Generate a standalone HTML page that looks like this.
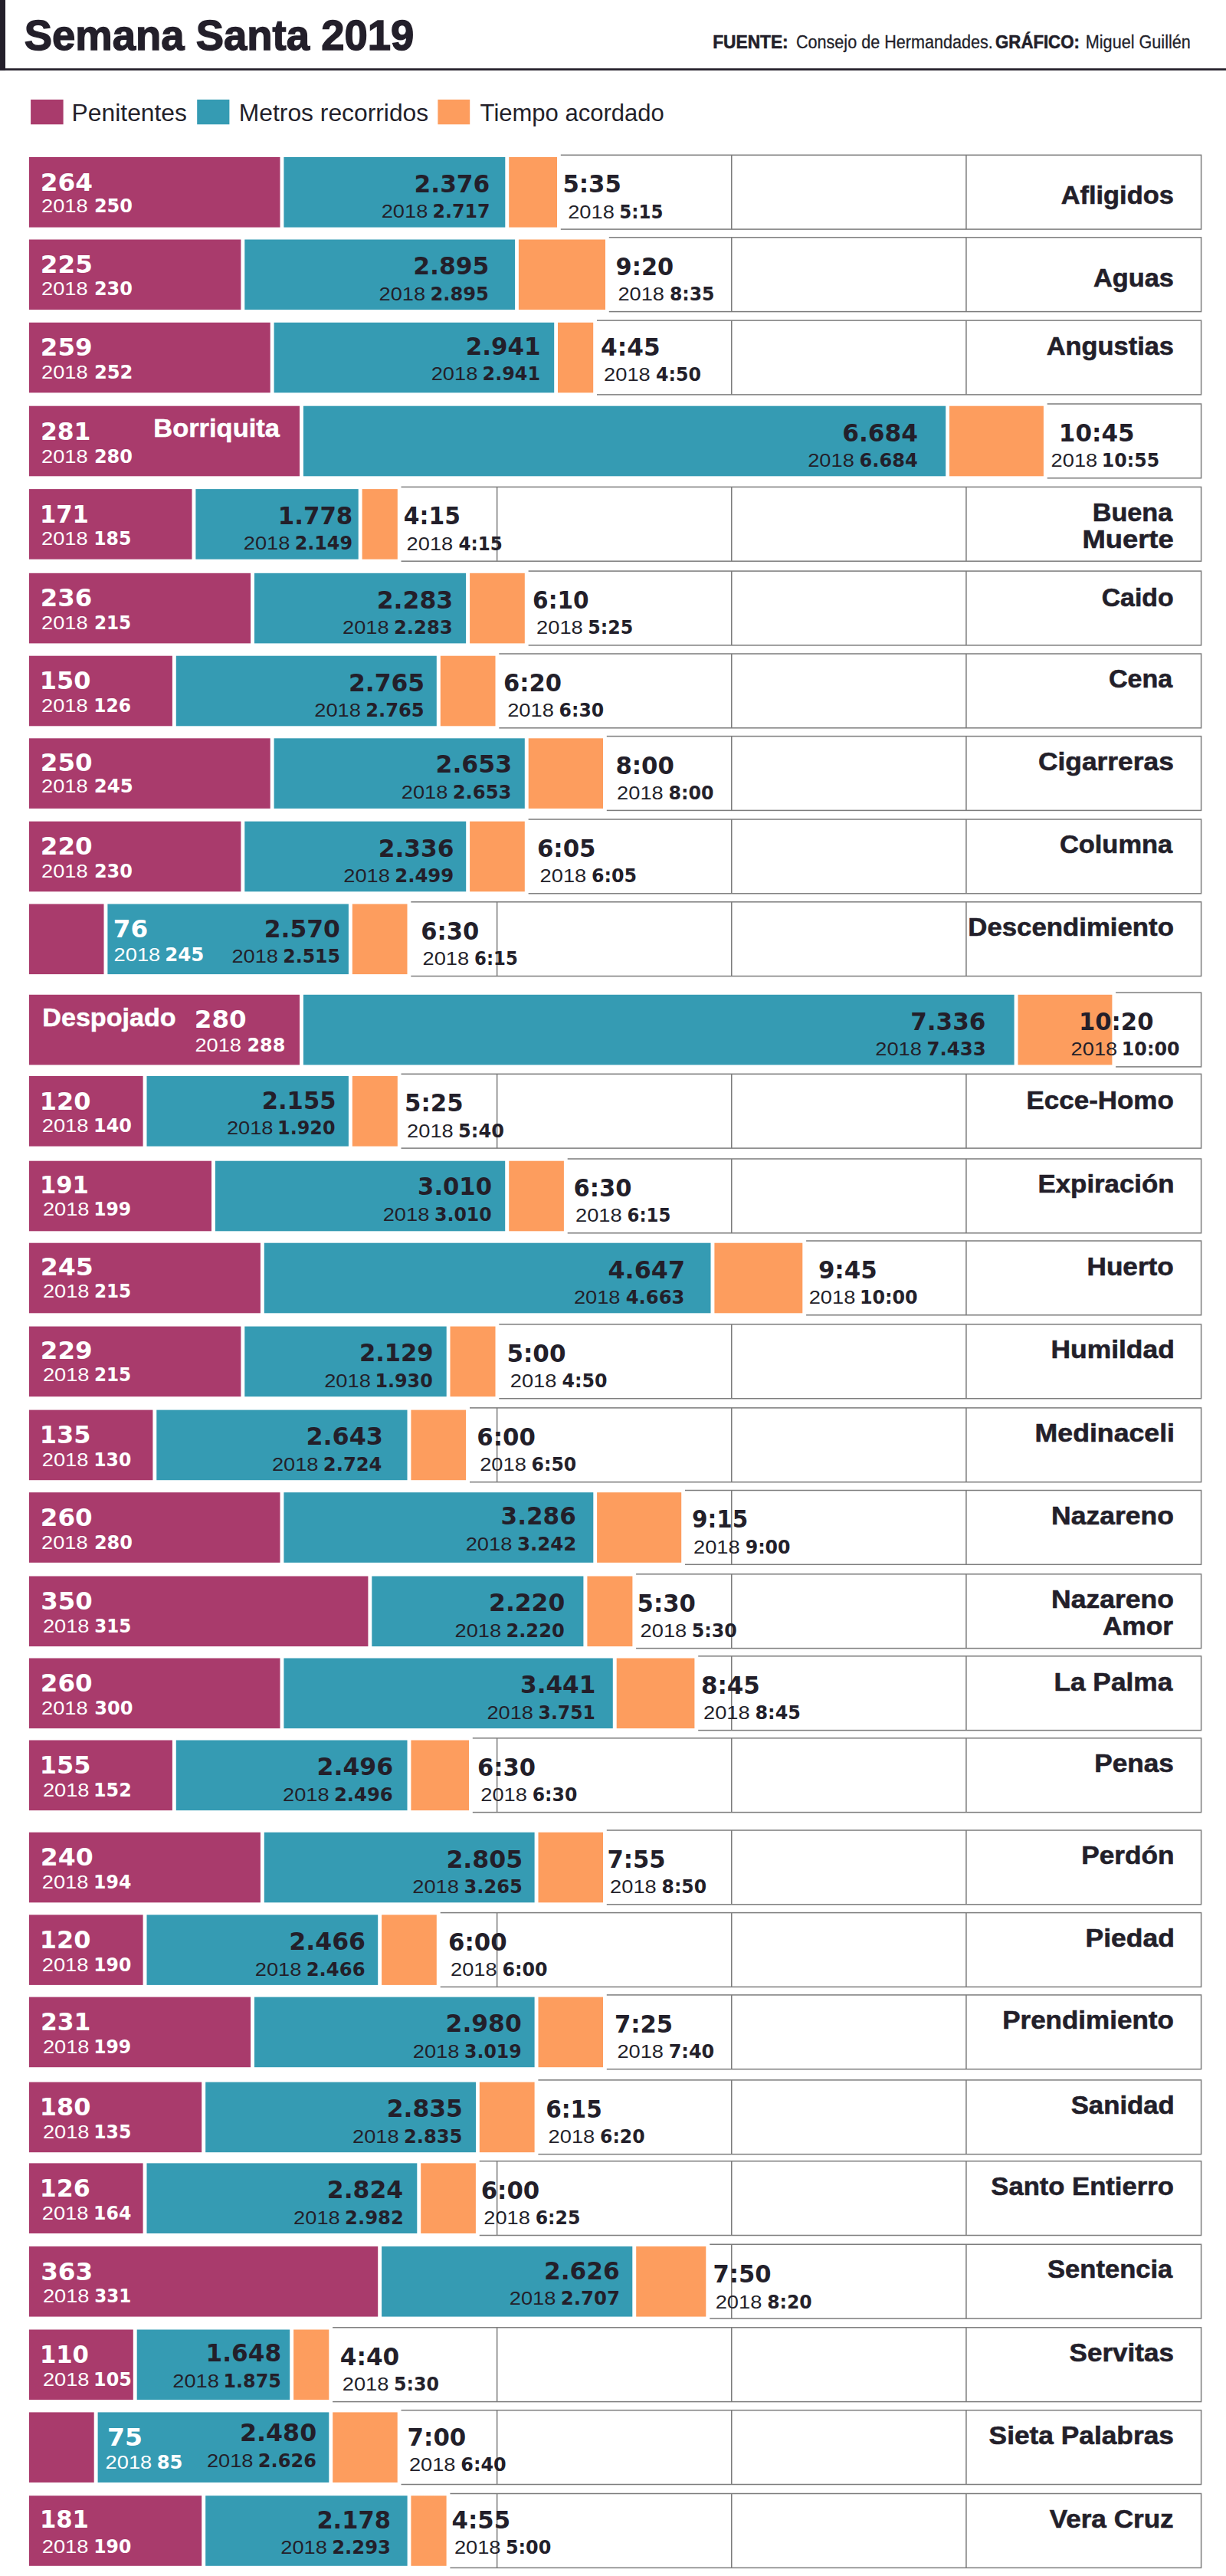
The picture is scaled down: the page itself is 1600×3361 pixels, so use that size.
<!DOCTYPE html>
<html lang="es"><head><meta charset="utf-8"><title>Semana Santa 2019</title>
<style>html,body{margin:0;padding:0;background:#fff}svg{display:block}text{white-space:pre}</style></head>
<body><svg width="1600" height="3361" viewBox="0 0 1600 3361">
<rect width="1600" height="3361" fill="#fff"/>
<rect x="0.0" y="0.0" width="7.0" height="91.8" fill="#231f2a"/>
<rect x="0.0" y="89.2" width="1600.0" height="2.7" fill="#231f2a"/>
<text x="31.7" y="64.7" font-family='"Liberation Sans",sans-serif' font-size="55.0" font-weight="bold" fill="#231f2a" textLength="508.6" lengthAdjust="spacingAndGlyphs" stroke="#231f2a" stroke-width="1.4">Semana Santa 2019</text>
<text x="930.2" y="62.6" font-family='"Liberation Sans",sans-serif' font-size="23.7" font-weight="bold" fill="#231f2a" textLength="98.5" lengthAdjust="spacingAndGlyphs" stroke="#231f2a" stroke-width="0.6">FUENTE:</text>
<text x="1039.0" y="62.6" font-family='"Liberation Sans",sans-serif' font-size="24.2" font-weight="normal" fill="#231f2a" textLength="256.7" lengthAdjust="spacingAndGlyphs" stroke="#231f2a" stroke-width="0.3">Consejo de Hermandades.</text>
<text x="1299.1" y="62.6" font-family='"Liberation Sans",sans-serif' font-size="23.7" font-weight="bold" fill="#231f2a" textLength="109.7" lengthAdjust="spacingAndGlyphs" stroke="#231f2a" stroke-width="0.6">GRÁFICO:</text>
<text x="1416.8" y="62.6" font-family='"Liberation Sans",sans-serif' font-size="24.2" font-weight="normal" fill="#231f2a" textLength="137.0" lengthAdjust="spacingAndGlyphs" stroke="#231f2a" stroke-width="0.3">Miguel Guillén</text>
<rect x="40.1" y="129.9" width="42.5" height="32.4" fill="#a93b6c"/>
<text x="93.6" y="158.3" font-family='"Liberation Sans",sans-serif' font-size="31.6" font-weight="normal" fill="#231f2a" textLength="150.4" lengthAdjust="spacingAndGlyphs">Penitentes</text>
<rect x="257.2" y="129.9" width="42.2" height="32.4" fill="#359bb3"/>
<text x="311.8" y="158.3" font-family='"Liberation Sans",sans-serif' font-size="31.6" font-weight="normal" fill="#231f2a" textLength="247.4" lengthAdjust="spacingAndGlyphs">Metros recorridos</text>
<rect x="571.4" y="129.9" width="41.8" height="32.4" fill="#fd9d5e"/>
<text x="626.6" y="158.3" font-family='"Liberation Sans",sans-serif' font-size="31.6" font-weight="normal" fill="#231f2a" textLength="240.2" lengthAdjust="spacingAndGlyphs">Tiempo acordado</text>
<rect x="35.6" y="202.3" width="1532.0" height="96.8" fill="#fff" stroke="#7c7c7c" stroke-width="1.5"/>
<rect x="647.9" y="202.3" width="1.5" height="96.8" fill="#7c7c7c"/>
<rect x="954.0" y="202.3" width="1.5" height="96.8" fill="#7c7c7c"/>
<rect x="1260.2" y="202.3" width="1.5" height="96.8" fill="#7c7c7c"/>
<rect x="32.9" y="200.2" width="698.9" height="101.2" fill="#fff"/>
<rect x="37.9" y="205.0" width="327.6" height="91.6" fill="#a93b6c"/>
<rect x="370.4" y="205.0" width="288.9" height="91.6" fill="#359bb3"/>
<rect x="664.2" y="205.0" width="62.8" height="91.6" fill="#fd9d5e"/>
<text x="52.8" y="249.0" font-family='"DejaVu Sans","Liberation Sans",sans-serif' font-size="32.6" font-weight="bold" fill="#fff" textLength="68.3" lengthAdjust="spacingAndGlyphs">264</text>
<text x="54.0" y="277.0" font-family='"Liberation Sans",sans-serif' font-size="24.4" font-weight="normal" fill="#fff" textLength="60.6" lengthAdjust="spacingAndGlyphs">2018</text>
<text x="122.9" y="277.0" font-family='"DejaVu Sans","Liberation Sans",sans-serif' font-size="24" font-weight="bold" fill="#fff" textLength="50.1" lengthAdjust="spacingAndGlyphs">250</text>
<text x="540.6" y="250.8" font-family='"DejaVu Sans","Liberation Sans",sans-serif' font-size="32.6" font-weight="bold" fill="#231f2a" textLength="98.7" lengthAdjust="spacingAndGlyphs">2.376</text>
<text x="564.6" y="284.3" font-family='"DejaVu Sans","Liberation Sans",sans-serif' font-size="24" font-weight="bold" fill="#231f2a" textLength="74.9" lengthAdjust="spacingAndGlyphs">2.717</text>
<text x="497.7" y="284.3" font-family='"Liberation Sans",sans-serif' font-size="24.4" font-weight="normal" fill="#231f2a" textLength="60.6" lengthAdjust="spacingAndGlyphs">2018</text>
<text x="734.4" y="251.2" font-family='"DejaVu Sans","Liberation Sans",sans-serif' font-size="32.6" font-weight="bold" fill="#231f2a" textLength="76.5" lengthAdjust="spacingAndGlyphs">5:35</text>
<text x="741.2" y="284.6" font-family='"Liberation Sans",sans-serif' font-size="24.4" font-weight="normal" fill="#231f2a" textLength="60.6" lengthAdjust="spacingAndGlyphs">2018</text>
<text x="808.3" y="284.6" font-family='"DejaVu Sans","Liberation Sans",sans-serif' font-size="24" font-weight="bold" fill="#231f2a" textLength="57.1" lengthAdjust="spacingAndGlyphs">5:15</text>
<text x="1384.7" y="266.0" font-family='"Liberation Sans",sans-serif' font-size="34.0" font-weight="bold" fill="#231f2a" textLength="147.1" lengthAdjust="spacingAndGlyphs" stroke="#231f2a" stroke-width="0.6">Afligidos</text>
<rect x="35.6" y="309.8" width="1532.0" height="96.8" fill="#fff" stroke="#7c7c7c" stroke-width="1.5"/>
<rect x="647.9" y="309.8" width="1.5" height="96.8" fill="#7c7c7c"/>
<rect x="954.0" y="309.8" width="1.5" height="96.8" fill="#7c7c7c"/>
<rect x="1260.2" y="309.8" width="1.5" height="96.8" fill="#7c7c7c"/>
<rect x="32.9" y="307.7" width="761.9" height="101.2" fill="#fff"/>
<rect x="37.9" y="312.5" width="276.5" height="91.6" fill="#a93b6c"/>
<rect x="319.3" y="312.5" width="352.8" height="91.6" fill="#359bb3"/>
<rect x="676.9" y="312.5" width="113.1" height="91.6" fill="#fd9d5e"/>
<text x="52.8" y="355.8" font-family='"DejaVu Sans","Liberation Sans",sans-serif' font-size="32.6" font-weight="bold" fill="#fff" textLength="68.1" lengthAdjust="spacingAndGlyphs">225</text>
<text x="54.0" y="385.0" font-family='"Liberation Sans",sans-serif' font-size="24.4" font-weight="normal" fill="#fff" textLength="60.6" lengthAdjust="spacingAndGlyphs">2018</text>
<text x="122.9" y="385.0" font-family='"DejaVu Sans","Liberation Sans",sans-serif' font-size="24" font-weight="bold" fill="#fff" textLength="50.1" lengthAdjust="spacingAndGlyphs">230</text>
<text x="539.2" y="358.3" font-family='"DejaVu Sans","Liberation Sans",sans-serif' font-size="32.6" font-weight="bold" fill="#231f2a" textLength="99.2" lengthAdjust="spacingAndGlyphs">2.895</text>
<text x="561.4" y="391.8" font-family='"DejaVu Sans","Liberation Sans",sans-serif' font-size="24" font-weight="bold" fill="#231f2a" textLength="76.5" lengthAdjust="spacingAndGlyphs">2.895</text>
<text x="494.5" y="391.8" font-family='"Liberation Sans",sans-serif' font-size="24.4" font-weight="normal" fill="#231f2a" textLength="60.6" lengthAdjust="spacingAndGlyphs">2018</text>
<text x="803.6" y="358.7" font-family='"DejaVu Sans","Liberation Sans",sans-serif' font-size="32.6" font-weight="bold" fill="#231f2a" textLength="75.6" lengthAdjust="spacingAndGlyphs">9:20</text>
<text x="806.4" y="392.1" font-family='"Liberation Sans",sans-serif' font-size="24.4" font-weight="normal" fill="#231f2a" textLength="60.6" lengthAdjust="spacingAndGlyphs">2018</text>
<text x="873.9" y="392.1" font-family='"DejaVu Sans","Liberation Sans",sans-serif' font-size="24" font-weight="bold" fill="#231f2a" textLength="58.6" lengthAdjust="spacingAndGlyphs">8:35</text>
<text x="1427.1" y="373.5" font-family='"Liberation Sans",sans-serif' font-size="34.0" font-weight="bold" fill="#231f2a" textLength="104.8" lengthAdjust="spacingAndGlyphs" stroke="#231f2a" stroke-width="0.6">Aguas</text>
<rect x="35.6" y="418.1" width="1532.0" height="96.8" fill="#fff" stroke="#7c7c7c" stroke-width="1.5"/>
<rect x="647.9" y="418.1" width="1.5" height="96.8" fill="#7c7c7c"/>
<rect x="954.0" y="418.1" width="1.5" height="96.8" fill="#7c7c7c"/>
<rect x="1260.2" y="418.1" width="1.5" height="96.8" fill="#7c7c7c"/>
<rect x="32.9" y="416.0" width="746.1" height="101.2" fill="#fff"/>
<rect x="37.9" y="420.8" width="314.8" height="91.6" fill="#a93b6c"/>
<rect x="357.6" y="420.8" width="365.6" height="91.6" fill="#359bb3"/>
<rect x="728.0" y="420.8" width="46.2" height="91.6" fill="#fd9d5e"/>
<text x="52.8" y="464.3" font-family='"DejaVu Sans","Liberation Sans",sans-serif' font-size="32.6" font-weight="bold" fill="#fff" textLength="67.8" lengthAdjust="spacingAndGlyphs">259</text>
<text x="54.0" y="494.1" font-family='"Liberation Sans",sans-serif' font-size="24.4" font-weight="normal" fill="#fff" textLength="60.6" lengthAdjust="spacingAndGlyphs">2018</text>
<text x="122.9" y="494.1" font-family='"DejaVu Sans","Liberation Sans",sans-serif' font-size="24" font-weight="bold" fill="#fff" textLength="50.6" lengthAdjust="spacingAndGlyphs">252</text>
<text x="607.7" y="462.6" font-family='"DejaVu Sans","Liberation Sans",sans-serif' font-size="32.6" font-weight="bold" fill="#231f2a" textLength="97.8" lengthAdjust="spacingAndGlyphs">2.941</text>
<text x="629.6" y="496.1" font-family='"DejaVu Sans","Liberation Sans",sans-serif' font-size="24" font-weight="bold" fill="#231f2a" textLength="75.4" lengthAdjust="spacingAndGlyphs">2.941</text>
<text x="562.7" y="496.1" font-family='"Liberation Sans",sans-serif' font-size="24.4" font-weight="normal" fill="#231f2a" textLength="60.6" lengthAdjust="spacingAndGlyphs">2018</text>
<text x="784.1" y="464.0" font-family='"DejaVu Sans","Liberation Sans",sans-serif' font-size="32.6" font-weight="bold" fill="#231f2a" textLength="77.6" lengthAdjust="spacingAndGlyphs">4:45</text>
<text x="788.1" y="497.4" font-family='"Liberation Sans",sans-serif' font-size="24.4" font-weight="normal" fill="#231f2a" textLength="60.6" lengthAdjust="spacingAndGlyphs">2018</text>
<text x="855.9" y="497.4" font-family='"DejaVu Sans","Liberation Sans",sans-serif' font-size="24" font-weight="bold" fill="#231f2a" textLength="59.0" lengthAdjust="spacingAndGlyphs">4:50</text>
<text x="1365.8" y="462.5" font-family='"Liberation Sans",sans-serif' font-size="34.0" font-weight="bold" fill="#231f2a" textLength="166.1" lengthAdjust="spacingAndGlyphs" stroke="#231f2a" stroke-width="0.6">Angustias</text>
<rect x="35.6" y="527.0" width="1532.0" height="96.8" fill="#fff" stroke="#7c7c7c" stroke-width="1.5"/>
<rect x="647.9" y="527.0" width="1.5" height="96.8" fill="#7c7c7c"/>
<rect x="954.0" y="527.0" width="1.5" height="96.8" fill="#7c7c7c"/>
<rect x="1260.2" y="527.0" width="1.5" height="96.8" fill="#7c7c7c"/>
<rect x="32.9" y="524.9" width="1333.8" height="101.2" fill="#fff"/>
<rect x="37.9" y="529.7" width="353.1" height="91.6" fill="#a93b6c"/>
<rect x="395.9" y="529.7" width="838.3" height="91.6" fill="#359bb3"/>
<rect x="1239.0" y="529.7" width="122.9" height="91.6" fill="#fd9d5e"/>
<text x="52.9" y="574.2" font-family='"DejaVu Sans","Liberation Sans",sans-serif' font-size="32.6" font-weight="bold" fill="#fff" textLength="65.5" lengthAdjust="spacingAndGlyphs">281</text>
<text x="54.0" y="604.2" font-family='"Liberation Sans",sans-serif' font-size="24.4" font-weight="normal" fill="#fff" textLength="60.6" lengthAdjust="spacingAndGlyphs">2018</text>
<text x="122.9" y="604.2" font-family='"DejaVu Sans","Liberation Sans",sans-serif' font-size="24" font-weight="bold" fill="#fff" textLength="50.1" lengthAdjust="spacingAndGlyphs">280</text>
<text x="200.3" y="569.7" font-family='"Liberation Sans",sans-serif' font-size="34.0" font-weight="bold" fill="#fff" textLength="164.6" lengthAdjust="spacingAndGlyphs" stroke="#fff" stroke-width="0.5">Borriquita</text>
<text x="1099.2" y="575.5" font-family='"DejaVu Sans","Liberation Sans",sans-serif' font-size="32.6" font-weight="bold" fill="#231f2a" textLength="98.9" lengthAdjust="spacingAndGlyphs">6.684</text>
<text x="1121.6" y="609.0" font-family='"DejaVu Sans","Liberation Sans",sans-serif' font-size="24" font-weight="bold" fill="#231f2a" textLength="76.2" lengthAdjust="spacingAndGlyphs">6.684</text>
<text x="1054.2" y="609.0" font-family='"Liberation Sans",sans-serif' font-size="24.4" font-weight="normal" fill="#231f2a" textLength="60.6" lengthAdjust="spacingAndGlyphs">2018</text>
<text x="1381.8" y="575.9" font-family='"DejaVu Sans","Liberation Sans",sans-serif' font-size="32.6" font-weight="bold" fill="#231f2a" textLength="98.8" lengthAdjust="spacingAndGlyphs">10:45</text>
<text x="1371.6" y="609.3" font-family='"Liberation Sans",sans-serif' font-size="24.4" font-weight="normal" fill="#231f2a" textLength="60.6" lengthAdjust="spacingAndGlyphs">2018</text>
<text x="1437.8" y="609.3" font-family='"DejaVu Sans","Liberation Sans",sans-serif' font-size="24" font-weight="bold" fill="#231f2a" textLength="75.3" lengthAdjust="spacingAndGlyphs">10:55</text>
<rect x="35.6" y="635.4" width="1532.0" height="96.8" fill="#fff" stroke="#7c7c7c" stroke-width="1.5"/>
<rect x="647.9" y="635.4" width="1.5" height="96.8" fill="#7c7c7c"/>
<rect x="954.0" y="635.4" width="1.5" height="96.8" fill="#7c7c7c"/>
<rect x="1260.2" y="635.4" width="1.5" height="96.8" fill="#7c7c7c"/>
<rect x="32.9" y="633.3" width="490.6" height="101.2" fill="#fff"/>
<rect x="37.9" y="638.1" width="212.6" height="91.6" fill="#a93b6c"/>
<rect x="255.4" y="638.1" width="212.3" height="91.6" fill="#359bb3"/>
<rect x="472.6" y="638.1" width="46.2" height="91.6" fill="#fd9d5e"/>
<text x="51.9" y="682.4" font-family='"DejaVu Sans","Liberation Sans",sans-serif' font-size="32.6" font-weight="bold" fill="#fff" textLength="64.1" lengthAdjust="spacingAndGlyphs">171</text>
<text x="54.0" y="710.9" font-family='"Liberation Sans",sans-serif' font-size="24.4" font-weight="normal" fill="#fff" textLength="60.6" lengthAdjust="spacingAndGlyphs">2018</text>
<text x="122.2" y="710.9" font-family='"DejaVu Sans","Liberation Sans",sans-serif' font-size="24" font-weight="bold" fill="#fff" textLength="49.2" lengthAdjust="spacingAndGlyphs">185</text>
<text x="362.8" y="683.9" font-family='"DejaVu Sans","Liberation Sans",sans-serif' font-size="32.6" font-weight="bold" fill="#231f2a" textLength="97.5" lengthAdjust="spacingAndGlyphs">1.778</text>
<text x="384.7" y="717.4" font-family='"DejaVu Sans","Liberation Sans",sans-serif' font-size="24" font-weight="bold" fill="#231f2a" textLength="75.3" lengthAdjust="spacingAndGlyphs">2.149</text>
<text x="317.8" y="717.4" font-family='"Liberation Sans",sans-serif' font-size="24.4" font-weight="normal" fill="#231f2a" textLength="60.6" lengthAdjust="spacingAndGlyphs">2018</text>
<text x="526.8" y="684.3" font-family='"DejaVu Sans","Liberation Sans",sans-serif' font-size="32.6" font-weight="bold" fill="#231f2a" textLength="74.1" lengthAdjust="spacingAndGlyphs">4:15</text>
<text x="530.6" y="717.7" font-family='"Liberation Sans",sans-serif' font-size="24.4" font-weight="normal" fill="#231f2a" textLength="60.6" lengthAdjust="spacingAndGlyphs">2018</text>
<text x="598.5" y="717.7" font-family='"DejaVu Sans","Liberation Sans",sans-serif' font-size="24" font-weight="bold" fill="#231f2a" textLength="57.2" lengthAdjust="spacingAndGlyphs">4:15</text>
<text x="1425.7" y="679.9" font-family='"Liberation Sans",sans-serif' font-size="34.0" font-weight="bold" fill="#231f2a" textLength="104.6" lengthAdjust="spacingAndGlyphs" stroke="#231f2a" stroke-width="0.6">Buena</text>
<text x="1412.5" y="714.9" font-family='"Liberation Sans",sans-serif' font-size="34.0" font-weight="bold" fill="#231f2a" textLength="119.2" lengthAdjust="spacingAndGlyphs" stroke="#231f2a" stroke-width="0.6">Muerte</text>
<rect x="35.6" y="745.1" width="1532.0" height="96.8" fill="#fff" stroke="#7c7c7c" stroke-width="1.5"/>
<rect x="647.9" y="745.1" width="1.5" height="96.8" fill="#7c7c7c"/>
<rect x="954.0" y="745.1" width="1.5" height="96.8" fill="#7c7c7c"/>
<rect x="1260.2" y="745.1" width="1.5" height="96.8" fill="#7c7c7c"/>
<rect x="32.9" y="743.0" width="656.7" height="101.2" fill="#fff"/>
<rect x="37.9" y="747.8" width="289.2" height="91.6" fill="#a93b6c"/>
<rect x="332.0" y="747.8" width="276.1" height="91.6" fill="#359bb3"/>
<rect x="613.1" y="747.8" width="71.7" height="91.6" fill="#fd9d5e"/>
<text x="52.8" y="791.3" font-family='"DejaVu Sans","Liberation Sans",sans-serif' font-size="32.6" font-weight="bold" fill="#fff" textLength="67.5" lengthAdjust="spacingAndGlyphs">236</text>
<text x="54.0" y="821.1" font-family='"Liberation Sans",sans-serif' font-size="24.4" font-weight="normal" fill="#fff" textLength="60.6" lengthAdjust="spacingAndGlyphs">2018</text>
<text x="122.9" y="821.1" font-family='"DejaVu Sans","Liberation Sans",sans-serif' font-size="24" font-weight="bold" fill="#fff" textLength="48.3" lengthAdjust="spacingAndGlyphs">215</text>
<text x="491.7" y="793.6" font-family='"DejaVu Sans","Liberation Sans",sans-serif' font-size="32.6" font-weight="bold" fill="#231f2a" textLength="99.6" lengthAdjust="spacingAndGlyphs">2.283</text>
<text x="513.9" y="827.1" font-family='"DejaVu Sans","Liberation Sans",sans-serif' font-size="24" font-weight="bold" fill="#231f2a" textLength="76.8" lengthAdjust="spacingAndGlyphs">2.283</text>
<text x="447.0" y="827.1" font-family='"Liberation Sans",sans-serif' font-size="24.4" font-weight="normal" fill="#231f2a" textLength="60.6" lengthAdjust="spacingAndGlyphs">2018</text>
<text x="695.1" y="794.0" font-family='"DejaVu Sans","Liberation Sans",sans-serif' font-size="32.6" font-weight="bold" fill="#231f2a" textLength="73.5" lengthAdjust="spacingAndGlyphs">6:10</text>
<text x="700.1" y="827.4" font-family='"Liberation Sans",sans-serif' font-size="24.4" font-weight="normal" fill="#231f2a" textLength="60.6" lengthAdjust="spacingAndGlyphs">2018</text>
<text x="767.2" y="827.4" font-family='"DejaVu Sans","Liberation Sans",sans-serif' font-size="24" font-weight="bold" fill="#231f2a" textLength="59.0" lengthAdjust="spacingAndGlyphs">5:25</text>
<text x="1437.7" y="790.8" font-family='"Liberation Sans",sans-serif' font-size="34.0" font-weight="bold" fill="#231f2a" textLength="94.0" lengthAdjust="spacingAndGlyphs" stroke="#231f2a" stroke-width="0.6">Caido</text>
<rect x="35.6" y="853.0" width="1532.0" height="96.8" fill="#fff" stroke="#7c7c7c" stroke-width="1.5"/>
<rect x="647.9" y="853.0" width="1.5" height="96.8" fill="#7c7c7c"/>
<rect x="954.0" y="853.0" width="1.5" height="96.8" fill="#7c7c7c"/>
<rect x="1260.2" y="853.0" width="1.5" height="96.8" fill="#7c7c7c"/>
<rect x="32.9" y="850.9" width="618.4" height="101.2" fill="#fff"/>
<rect x="37.9" y="855.7" width="187.0" height="91.6" fill="#a93b6c"/>
<rect x="229.8" y="855.7" width="340.0" height="91.6" fill="#359bb3"/>
<rect x="574.8" y="855.7" width="71.7" height="91.6" fill="#fd9d5e"/>
<text x="51.8" y="899.2" font-family='"DejaVu Sans","Liberation Sans",sans-serif' font-size="32.6" font-weight="bold" fill="#fff" textLength="66.6" lengthAdjust="spacingAndGlyphs">150</text>
<text x="54.0" y="929.0" font-family='"Liberation Sans",sans-serif' font-size="24.4" font-weight="normal" fill="#fff" textLength="60.6" lengthAdjust="spacingAndGlyphs">2018</text>
<text x="122.2" y="929.0" font-family='"DejaVu Sans","Liberation Sans",sans-serif' font-size="24" font-weight="bold" fill="#fff" textLength="48.7" lengthAdjust="spacingAndGlyphs">126</text>
<text x="455.0" y="901.5" font-family='"DejaVu Sans","Liberation Sans",sans-serif' font-size="32.6" font-weight="bold" fill="#231f2a" textLength="99.2" lengthAdjust="spacingAndGlyphs">2.765</text>
<text x="477.2" y="935.0" font-family='"DejaVu Sans","Liberation Sans",sans-serif' font-size="24" font-weight="bold" fill="#231f2a" textLength="76.5" lengthAdjust="spacingAndGlyphs">2.765</text>
<text x="410.3" y="935.0" font-family='"Liberation Sans",sans-serif' font-size="24.4" font-weight="normal" fill="#231f2a" textLength="60.6" lengthAdjust="spacingAndGlyphs">2018</text>
<text x="657.1" y="901.9" font-family='"DejaVu Sans","Liberation Sans",sans-serif' font-size="32.6" font-weight="bold" fill="#231f2a" textLength="76.0" lengthAdjust="spacingAndGlyphs">6:20</text>
<text x="662.2" y="935.3" font-family='"Liberation Sans",sans-serif' font-size="24.4" font-weight="normal" fill="#231f2a" textLength="60.6" lengthAdjust="spacingAndGlyphs">2018</text>
<text x="729.6" y="935.3" font-family='"DejaVu Sans","Liberation Sans",sans-serif' font-size="24" font-weight="bold" fill="#231f2a" textLength="58.6" lengthAdjust="spacingAndGlyphs">6:30</text>
<text x="1446.9" y="897.0" font-family='"Liberation Sans",sans-serif' font-size="34.0" font-weight="bold" fill="#231f2a" textLength="83.3" lengthAdjust="spacingAndGlyphs" stroke="#231f2a" stroke-width="0.6">Cena</text>
<rect x="35.6" y="960.6" width="1532.0" height="96.8" fill="#fff" stroke="#7c7c7c" stroke-width="1.5"/>
<rect x="647.9" y="960.6" width="1.5" height="96.8" fill="#7c7c7c"/>
<rect x="954.0" y="960.6" width="1.5" height="96.8" fill="#7c7c7c"/>
<rect x="1260.2" y="960.6" width="1.5" height="96.8" fill="#7c7c7c"/>
<rect x="32.9" y="958.5" width="758.9" height="101.2" fill="#fff"/>
<rect x="37.9" y="963.3" width="314.8" height="91.6" fill="#a93b6c"/>
<rect x="357.6" y="963.3" width="327.2" height="91.6" fill="#359bb3"/>
<rect x="689.7" y="963.3" width="97.3" height="91.6" fill="#fd9d5e"/>
<text x="52.8" y="1005.8" font-family='"DejaVu Sans","Liberation Sans",sans-serif' font-size="32.6" font-weight="bold" fill="#fff" textLength="67.9" lengthAdjust="spacingAndGlyphs">250</text>
<text x="54.0" y="1034.3" font-family='"Liberation Sans",sans-serif' font-size="24.4" font-weight="normal" fill="#fff" textLength="60.6" lengthAdjust="spacingAndGlyphs">2018</text>
<text x="122.8" y="1034.3" font-family='"DejaVu Sans","Liberation Sans",sans-serif' font-size="24" font-weight="bold" fill="#fff" textLength="51.0" lengthAdjust="spacingAndGlyphs">245</text>
<text x="568.5" y="1008.1" font-family='"DejaVu Sans","Liberation Sans",sans-serif' font-size="32.6" font-weight="bold" fill="#231f2a" textLength="99.6" lengthAdjust="spacingAndGlyphs">2.653</text>
<text x="590.7" y="1041.6" font-family='"DejaVu Sans","Liberation Sans",sans-serif' font-size="24" font-weight="bold" fill="#231f2a" textLength="76.8" lengthAdjust="spacingAndGlyphs">2.653</text>
<text x="523.8" y="1041.6" font-family='"Liberation Sans",sans-serif' font-size="24.4" font-weight="normal" fill="#231f2a" textLength="60.6" lengthAdjust="spacingAndGlyphs">2018</text>
<text x="803.4" y="1009.5" font-family='"DejaVu Sans","Liberation Sans",sans-serif' font-size="32.6" font-weight="bold" fill="#231f2a" textLength="76.5" lengthAdjust="spacingAndGlyphs">8:00</text>
<text x="805.1" y="1042.9" font-family='"Liberation Sans",sans-serif' font-size="24.4" font-weight="normal" fill="#231f2a" textLength="60.6" lengthAdjust="spacingAndGlyphs">2018</text>
<text x="872.6" y="1042.9" font-family='"DejaVu Sans","Liberation Sans",sans-serif' font-size="24" font-weight="bold" fill="#231f2a" textLength="59.0" lengthAdjust="spacingAndGlyphs">8:00</text>
<text x="1354.9" y="1004.6" font-family='"Liberation Sans",sans-serif' font-size="34.0" font-weight="bold" fill="#231f2a" textLength="177.0" lengthAdjust="spacingAndGlyphs" stroke="#231f2a" stroke-width="0.6">Cigarreras</text>
<rect x="35.6" y="1069.0" width="1532.0" height="96.8" fill="#fff" stroke="#7c7c7c" stroke-width="1.5"/>
<rect x="647.9" y="1069.0" width="1.5" height="96.8" fill="#7c7c7c"/>
<rect x="954.0" y="1069.0" width="1.5" height="96.8" fill="#7c7c7c"/>
<rect x="1260.2" y="1069.0" width="1.5" height="96.8" fill="#7c7c7c"/>
<rect x="32.9" y="1066.9" width="656.7" height="101.2" fill="#fff"/>
<rect x="37.9" y="1071.7" width="276.5" height="91.6" fill="#a93b6c"/>
<rect x="319.3" y="1071.7" width="288.9" height="91.6" fill="#359bb3"/>
<rect x="613.1" y="1071.7" width="71.7" height="91.6" fill="#fd9d5e"/>
<text x="52.8" y="1115.2" font-family='"DejaVu Sans","Liberation Sans",sans-serif' font-size="32.6" font-weight="bold" fill="#fff" textLength="67.9" lengthAdjust="spacingAndGlyphs">220</text>
<text x="54.0" y="1145.0" font-family='"Liberation Sans",sans-serif' font-size="24.4" font-weight="normal" fill="#fff" textLength="60.6" lengthAdjust="spacingAndGlyphs">2018</text>
<text x="122.9" y="1145.0" font-family='"DejaVu Sans","Liberation Sans",sans-serif' font-size="24" font-weight="bold" fill="#fff" textLength="50.1" lengthAdjust="spacingAndGlyphs">230</text>
<text x="493.8" y="1117.5" font-family='"DejaVu Sans","Liberation Sans",sans-serif' font-size="32.6" font-weight="bold" fill="#231f2a" textLength="98.7" lengthAdjust="spacingAndGlyphs">2.336</text>
<text x="515.2" y="1151.0" font-family='"DejaVu Sans","Liberation Sans",sans-serif' font-size="24" font-weight="bold" fill="#231f2a" textLength="77.1" lengthAdjust="spacingAndGlyphs">2.499</text>
<text x="448.3" y="1151.0" font-family='"Liberation Sans",sans-serif' font-size="24.4" font-weight="normal" fill="#231f2a" textLength="60.6" lengthAdjust="spacingAndGlyphs">2018</text>
<text x="700.9" y="1117.9" font-family='"DejaVu Sans","Liberation Sans",sans-serif' font-size="32.6" font-weight="bold" fill="#231f2a" textLength="76.7" lengthAdjust="spacingAndGlyphs">6:05</text>
<text x="704.6" y="1151.3" font-family='"Liberation Sans",sans-serif' font-size="24.4" font-weight="normal" fill="#231f2a" textLength="60.6" lengthAdjust="spacingAndGlyphs">2018</text>
<text x="772.0" y="1151.3" font-family='"DejaVu Sans","Liberation Sans",sans-serif' font-size="24" font-weight="bold" fill="#231f2a" textLength="59.1" lengthAdjust="spacingAndGlyphs">6:05</text>
<text x="1382.9" y="1113.0" font-family='"Liberation Sans",sans-serif' font-size="34.0" font-weight="bold" fill="#231f2a" textLength="147.3" lengthAdjust="spacingAndGlyphs" stroke="#231f2a" stroke-width="0.6">Columna</text>
<rect x="35.6" y="1176.8" width="1532.0" height="96.8" fill="#fff" stroke="#7c7c7c" stroke-width="1.5"/>
<rect x="647.9" y="1176.8" width="1.5" height="96.8" fill="#7c7c7c"/>
<rect x="954.0" y="1176.8" width="1.5" height="96.8" fill="#7c7c7c"/>
<rect x="1260.2" y="1176.8" width="1.5" height="96.8" fill="#7c7c7c"/>
<rect x="32.9" y="1174.7" width="503.4" height="101.2" fill="#fff"/>
<rect x="37.9" y="1179.5" width="97.6" height="91.6" fill="#a93b6c"/>
<rect x="140.4" y="1179.5" width="314.5" height="91.6" fill="#359bb3"/>
<rect x="459.8" y="1179.5" width="71.7" height="91.6" fill="#fd9d5e"/>
<text x="147.8" y="1222.5" font-family='"DejaVu Sans","Liberation Sans",sans-serif' font-size="32.6" font-weight="bold" fill="#fff" textLength="45.4" lengthAdjust="spacingAndGlyphs">76</text>
<text x="148.6" y="1253.5" font-family='"Liberation Sans",sans-serif' font-size="24.4" font-weight="normal" fill="#fff" textLength="60.6" lengthAdjust="spacingAndGlyphs">2018</text>
<text x="215.3" y="1253.5" font-family='"DejaVu Sans","Liberation Sans",sans-serif' font-size="24" font-weight="bold" fill="#fff" textLength="51.0" lengthAdjust="spacingAndGlyphs">245</text>
<text x="344.7" y="1222.6" font-family='"DejaVu Sans","Liberation Sans",sans-serif' font-size="32.6" font-weight="bold" fill="#231f2a" textLength="99.1" lengthAdjust="spacingAndGlyphs">2.570</text>
<text x="369.3" y="1256.1" font-family='"DejaVu Sans","Liberation Sans",sans-serif' font-size="24" font-weight="bold" fill="#231f2a" textLength="74.6" lengthAdjust="spacingAndGlyphs">2.515</text>
<text x="302.4" y="1256.1" font-family='"Liberation Sans",sans-serif' font-size="24.4" font-weight="normal" fill="#231f2a" textLength="60.6" lengthAdjust="spacingAndGlyphs">2018</text>
<text x="549.3" y="1225.7" font-family='"DejaVu Sans","Liberation Sans",sans-serif' font-size="32.6" font-weight="bold" fill="#231f2a" textLength="76.0" lengthAdjust="spacingAndGlyphs">6:30</text>
<text x="551.5" y="1259.1" font-family='"Liberation Sans",sans-serif' font-size="24.4" font-weight="normal" fill="#231f2a" textLength="60.6" lengthAdjust="spacingAndGlyphs">2018</text>
<text x="619.0" y="1259.1" font-family='"DejaVu Sans","Liberation Sans",sans-serif' font-size="24" font-weight="bold" fill="#231f2a" textLength="56.8" lengthAdjust="spacingAndGlyphs">6:15</text>
<text x="1263.3" y="1220.8" font-family='"Liberation Sans",sans-serif' font-size="34.0" font-weight="bold" fill="#231f2a" textLength="268.6" lengthAdjust="spacingAndGlyphs" stroke="#231f2a" stroke-width="0.6">Descendimiento</text>
<rect x="35.6" y="1295.1" width="1532.0" height="96.8" fill="#fff" stroke="#7c7c7c" stroke-width="1.5"/>
<rect x="647.9" y="1295.1" width="1.5" height="96.8" fill="#7c7c7c"/>
<rect x="954.0" y="1295.1" width="1.5" height="96.8" fill="#7c7c7c"/>
<rect x="1260.2" y="1295.1" width="1.5" height="96.8" fill="#7c7c7c"/>
<rect x="32.9" y="1293.0" width="1423.2" height="101.2" fill="#fff"/>
<rect x="37.9" y="1297.8" width="353.1" height="91.6" fill="#a93b6c"/>
<rect x="395.9" y="1297.8" width="927.7" height="91.6" fill="#359bb3"/>
<rect x="1328.5" y="1297.8" width="122.9" height="91.6" fill="#fd9d5e"/>
<text x="253.8" y="1341.4" font-family='"DejaVu Sans","Liberation Sans",sans-serif' font-size="32.6" font-weight="bold" fill="#fff" textLength="67.9" lengthAdjust="spacingAndGlyphs">280</text>
<text x="254.4" y="1372.0" font-family='"Liberation Sans",sans-serif' font-size="24.4" font-weight="normal" fill="#fff" textLength="60.6" lengthAdjust="spacingAndGlyphs">2018</text>
<text x="322.4" y="1372.0" font-family='"DejaVu Sans","Liberation Sans",sans-serif' font-size="24" font-weight="bold" fill="#fff" textLength="49.9" lengthAdjust="spacingAndGlyphs">288</text>
<text x="55.3" y="1338.8" font-family='"Liberation Sans",sans-serif' font-size="34.0" font-weight="bold" fill="#fff" textLength="174.3" lengthAdjust="spacingAndGlyphs" stroke="#fff" stroke-width="0.5">Despojado</text>
<text x="1188.2" y="1343.6" font-family='"DejaVu Sans","Liberation Sans",sans-serif' font-size="32.6" font-weight="bold" fill="#231f2a" textLength="98.2" lengthAdjust="spacingAndGlyphs">7.336</text>
<text x="1209.5" y="1377.1" font-family='"DejaVu Sans","Liberation Sans",sans-serif' font-size="24" font-weight="bold" fill="#231f2a" textLength="77.2" lengthAdjust="spacingAndGlyphs">7.433</text>
<text x="1142.3" y="1377.1" font-family='"Liberation Sans",sans-serif' font-size="24.4" font-weight="normal" fill="#231f2a" textLength="60.6" lengthAdjust="spacingAndGlyphs">2018</text>
<text x="1407.9" y="1344.0" font-family='"DejaVu Sans","Liberation Sans",sans-serif' font-size="32.6" font-weight="bold" fill="#231f2a" textLength="97.6" lengthAdjust="spacingAndGlyphs">10:20</text>
<text x="1397.6" y="1377.4" font-family='"Liberation Sans",sans-serif' font-size="24.4" font-weight="normal" fill="#231f2a" textLength="60.6" lengthAdjust="spacingAndGlyphs">2018</text>
<text x="1463.8" y="1377.4" font-family='"DejaVu Sans","Liberation Sans",sans-serif' font-size="24" font-weight="bold" fill="#231f2a" textLength="75.8" lengthAdjust="spacingAndGlyphs">10:00</text>
<rect x="35.6" y="1401.3" width="1532.0" height="96.8" fill="#fff" stroke="#7c7c7c" stroke-width="1.5"/>
<rect x="647.9" y="1401.3" width="1.5" height="96.8" fill="#7c7c7c"/>
<rect x="954.0" y="1401.3" width="1.5" height="96.8" fill="#7c7c7c"/>
<rect x="1260.2" y="1401.3" width="1.5" height="96.8" fill="#7c7c7c"/>
<rect x="32.9" y="1399.2" width="490.6" height="101.2" fill="#fff"/>
<rect x="37.9" y="1404.0" width="148.7" height="91.6" fill="#a93b6c"/>
<rect x="191.5" y="1404.0" width="263.4" height="91.6" fill="#359bb3"/>
<rect x="459.8" y="1404.0" width="59.0" height="91.6" fill="#fd9d5e"/>
<text x="51.8" y="1447.5" font-family='"DejaVu Sans","Liberation Sans",sans-serif' font-size="32.6" font-weight="bold" fill="#fff" textLength="66.6" lengthAdjust="spacingAndGlyphs">120</text>
<text x="54.8" y="1477.3" font-family='"Liberation Sans",sans-serif' font-size="24.4" font-weight="normal" fill="#fff" textLength="60.6" lengthAdjust="spacingAndGlyphs">2018</text>
<text x="122.1" y="1477.3" font-family='"DejaVu Sans","Liberation Sans",sans-serif' font-size="24" font-weight="bold" fill="#fff" textLength="49.9" lengthAdjust="spacingAndGlyphs">140</text>
<text x="341.7" y="1446.8" font-family='"DejaVu Sans","Liberation Sans",sans-serif' font-size="32.6" font-weight="bold" fill="#231f2a" textLength="96.8" lengthAdjust="spacingAndGlyphs">2.155</text>
<text x="362.1" y="1480.3" font-family='"DejaVu Sans","Liberation Sans",sans-serif' font-size="24" font-weight="bold" fill="#231f2a" textLength="75.4" lengthAdjust="spacingAndGlyphs">1.920</text>
<text x="295.9" y="1480.3" font-family='"Liberation Sans",sans-serif' font-size="24.4" font-weight="normal" fill="#231f2a" textLength="60.6" lengthAdjust="spacingAndGlyphs">2018</text>
<text x="528.1" y="1450.2" font-family='"DejaVu Sans","Liberation Sans",sans-serif' font-size="32.6" font-weight="bold" fill="#231f2a" textLength="76.5" lengthAdjust="spacingAndGlyphs">5:25</text>
<text x="531.1" y="1483.6" font-family='"Liberation Sans",sans-serif' font-size="24.4" font-weight="normal" fill="#231f2a" textLength="60.6" lengthAdjust="spacingAndGlyphs">2018</text>
<text x="598.1" y="1483.6" font-family='"DejaVu Sans","Liberation Sans",sans-serif' font-size="24" font-weight="bold" fill="#231f2a" textLength="59.8" lengthAdjust="spacingAndGlyphs">5:40</text>
<text x="1339.5" y="1447.0" font-family='"Liberation Sans",sans-serif' font-size="34.0" font-weight="bold" fill="#231f2a" textLength="192.3" lengthAdjust="spacingAndGlyphs" stroke="#231f2a" stroke-width="0.6">Ecce-Homo</text>
<rect x="35.6" y="1512.0" width="1532.0" height="96.8" fill="#fff" stroke="#7c7c7c" stroke-width="1.5"/>
<rect x="647.9" y="1512.0" width="1.5" height="96.8" fill="#7c7c7c"/>
<rect x="954.0" y="1512.0" width="1.5" height="96.8" fill="#7c7c7c"/>
<rect x="1260.2" y="1512.0" width="1.5" height="96.8" fill="#7c7c7c"/>
<rect x="32.9" y="1509.9" width="707.8" height="101.2" fill="#fff"/>
<rect x="37.9" y="1514.7" width="238.1" height="91.6" fill="#a93b6c"/>
<rect x="280.9" y="1514.7" width="378.3" height="91.6" fill="#359bb3"/>
<rect x="664.2" y="1514.7" width="71.7" height="91.6" fill="#fd9d5e"/>
<text x="51.9" y="1556.7" font-family='"DejaVu Sans","Liberation Sans",sans-serif' font-size="32.6" font-weight="bold" fill="#fff" textLength="64.1" lengthAdjust="spacingAndGlyphs">191</text>
<text x="55.9" y="1585.7" font-family='"Liberation Sans",sans-serif' font-size="24.4" font-weight="normal" fill="#fff" textLength="60.6" lengthAdjust="spacingAndGlyphs">2018</text>
<text x="122.2" y="1585.7" font-family='"DejaVu Sans","Liberation Sans",sans-serif' font-size="24" font-weight="bold" fill="#fff" textLength="49.0" lengthAdjust="spacingAndGlyphs">199</text>
<text x="545.1" y="1559.3" font-family='"DejaVu Sans","Liberation Sans",sans-serif' font-size="32.6" font-weight="bold" fill="#231f2a" textLength="96.9" lengthAdjust="spacingAndGlyphs">3.010</text>
<text x="567.0" y="1592.8" font-family='"DejaVu Sans","Liberation Sans",sans-serif' font-size="24" font-weight="bold" fill="#231f2a" textLength="74.7" lengthAdjust="spacingAndGlyphs">3.010</text>
<text x="499.7" y="1592.8" font-family='"Liberation Sans",sans-serif' font-size="24.4" font-weight="normal" fill="#231f2a" textLength="60.6" lengthAdjust="spacingAndGlyphs">2018</text>
<text x="748.5" y="1560.9" font-family='"DejaVu Sans","Liberation Sans",sans-serif' font-size="32.6" font-weight="bold" fill="#231f2a" textLength="76.0" lengthAdjust="spacingAndGlyphs">6:30</text>
<text x="751.0" y="1594.3" font-family='"Liberation Sans",sans-serif' font-size="24.4" font-weight="normal" fill="#231f2a" textLength="60.6" lengthAdjust="spacingAndGlyphs">2018</text>
<text x="818.5" y="1594.3" font-family='"DejaVu Sans","Liberation Sans",sans-serif' font-size="24" font-weight="bold" fill="#231f2a" textLength="56.8" lengthAdjust="spacingAndGlyphs">6:15</text>
<text x="1354.5" y="1556.0" font-family='"Liberation Sans",sans-serif' font-size="34.0" font-weight="bold" fill="#231f2a" textLength="178.1" lengthAdjust="spacingAndGlyphs" stroke="#231f2a" stroke-width="0.6">Expiración</text>
<rect x="35.6" y="1619.0" width="1532.0" height="96.8" fill="#fff" stroke="#7c7c7c" stroke-width="1.5"/>
<rect x="647.9" y="1619.0" width="1.5" height="96.8" fill="#7c7c7c"/>
<rect x="954.0" y="1619.0" width="1.5" height="96.8" fill="#7c7c7c"/>
<rect x="1260.2" y="1619.0" width="1.5" height="96.8" fill="#7c7c7c"/>
<rect x="32.9" y="1616.9" width="1019.2" height="101.2" fill="#fff"/>
<rect x="37.9" y="1621.7" width="302.0" height="91.6" fill="#a93b6c"/>
<rect x="344.8" y="1621.7" width="582.7" height="91.6" fill="#359bb3"/>
<rect x="932.4" y="1621.7" width="114.9" height="91.6" fill="#fd9d5e"/>
<text x="52.7" y="1663.7" font-family='"DejaVu Sans","Liberation Sans",sans-serif' font-size="32.6" font-weight="bold" fill="#fff" textLength="69.2" lengthAdjust="spacingAndGlyphs">245</text>
<text x="55.9" y="1693.2" font-family='"Liberation Sans",sans-serif' font-size="24.4" font-weight="normal" fill="#fff" textLength="60.6" lengthAdjust="spacingAndGlyphs">2018</text>
<text x="122.9" y="1693.2" font-family='"DejaVu Sans","Liberation Sans",sans-serif' font-size="24" font-weight="bold" fill="#fff" textLength="48.3" lengthAdjust="spacingAndGlyphs">215</text>
<text x="793.5" y="1667.5" font-family='"DejaVu Sans","Liberation Sans",sans-serif' font-size="32.6" font-weight="bold" fill="#231f2a" textLength="100.5" lengthAdjust="spacingAndGlyphs">4.647</text>
<text x="816.7" y="1701.0" font-family='"DejaVu Sans","Liberation Sans",sans-serif' font-size="24" font-weight="bold" fill="#231f2a" textLength="76.7" lengthAdjust="spacingAndGlyphs">4.663</text>
<text x="748.9" y="1701.0" font-family='"Liberation Sans",sans-serif' font-size="24.4" font-weight="normal" fill="#231f2a" textLength="60.6" lengthAdjust="spacingAndGlyphs">2018</text>
<text x="1067.9" y="1667.9" font-family='"DejaVu Sans","Liberation Sans",sans-serif' font-size="32.6" font-weight="bold" fill="#231f2a" textLength="76.8" lengthAdjust="spacingAndGlyphs">9:45</text>
<text x="1055.7" y="1701.3" font-family='"Liberation Sans",sans-serif' font-size="24.4" font-weight="normal" fill="#231f2a" textLength="60.6" lengthAdjust="spacingAndGlyphs">2018</text>
<text x="1121.9" y="1701.3" font-family='"DejaVu Sans","Liberation Sans",sans-serif' font-size="24" font-weight="bold" fill="#231f2a" textLength="75.8" lengthAdjust="spacingAndGlyphs">10:00</text>
<text x="1418.5" y="1663.9" font-family='"Liberation Sans",sans-serif' font-size="34.0" font-weight="bold" fill="#231f2a" textLength="113.3" lengthAdjust="spacingAndGlyphs" stroke="#231f2a" stroke-width="0.6">Huerto</text>
<rect x="35.6" y="1727.9" width="1532.0" height="96.8" fill="#fff" stroke="#7c7c7c" stroke-width="1.5"/>
<rect x="647.9" y="1727.9" width="1.5" height="96.8" fill="#7c7c7c"/>
<rect x="954.0" y="1727.9" width="1.5" height="96.8" fill="#7c7c7c"/>
<rect x="1260.2" y="1727.9" width="1.5" height="96.8" fill="#7c7c7c"/>
<rect x="32.9" y="1725.8" width="618.4" height="101.2" fill="#fff"/>
<rect x="37.9" y="1730.6" width="276.5" height="91.6" fill="#a93b6c"/>
<rect x="319.3" y="1730.6" width="263.4" height="91.6" fill="#359bb3"/>
<rect x="587.5" y="1730.6" width="59.0" height="91.6" fill="#fd9d5e"/>
<text x="52.8" y="1773.1" font-family='"DejaVu Sans","Liberation Sans",sans-serif' font-size="32.6" font-weight="bold" fill="#fff" textLength="67.8" lengthAdjust="spacingAndGlyphs">229</text>
<text x="55.9" y="1801.6" font-family='"Liberation Sans",sans-serif' font-size="24.4" font-weight="normal" fill="#fff" textLength="60.6" lengthAdjust="spacingAndGlyphs">2018</text>
<text x="122.9" y="1801.6" font-family='"DejaVu Sans","Liberation Sans",sans-serif' font-size="24" font-weight="bold" fill="#fff" textLength="48.3" lengthAdjust="spacingAndGlyphs">215</text>
<text x="469.0" y="1776.4" font-family='"DejaVu Sans","Liberation Sans",sans-serif' font-size="32.6" font-weight="bold" fill="#231f2a" textLength="96.6" lengthAdjust="spacingAndGlyphs">2.129</text>
<text x="489.4" y="1809.9" font-family='"DejaVu Sans","Liberation Sans",sans-serif' font-size="24" font-weight="bold" fill="#231f2a" textLength="75.4" lengthAdjust="spacingAndGlyphs">1.930</text>
<text x="423.2" y="1809.9" font-family='"Liberation Sans",sans-serif' font-size="24.4" font-weight="normal" fill="#231f2a" textLength="60.6" lengthAdjust="spacingAndGlyphs">2018</text>
<text x="661.4" y="1776.8" font-family='"DejaVu Sans","Liberation Sans",sans-serif' font-size="32.6" font-weight="bold" fill="#231f2a" textLength="77.1" lengthAdjust="spacingAndGlyphs">5:00</text>
<text x="665.8" y="1810.2" font-family='"Liberation Sans",sans-serif' font-size="24.4" font-weight="normal" fill="#231f2a" textLength="60.6" lengthAdjust="spacingAndGlyphs">2018</text>
<text x="733.6" y="1810.2" font-family='"DejaVu Sans","Liberation Sans",sans-serif' font-size="24" font-weight="bold" fill="#231f2a" textLength="59.0" lengthAdjust="spacingAndGlyphs">4:50</text>
<text x="1371.5" y="1771.9" font-family='"Liberation Sans",sans-serif' font-size="34.0" font-weight="bold" fill="#231f2a" textLength="161.3" lengthAdjust="spacingAndGlyphs" stroke="#231f2a" stroke-width="0.6">Humildad</text>
<rect x="35.6" y="1836.9" width="1532.0" height="96.8" fill="#fff" stroke="#7c7c7c" stroke-width="1.5"/>
<rect x="647.9" y="1836.9" width="1.5" height="96.8" fill="#7c7c7c"/>
<rect x="954.0" y="1836.9" width="1.5" height="96.8" fill="#7c7c7c"/>
<rect x="1260.2" y="1836.9" width="1.5" height="96.8" fill="#7c7c7c"/>
<rect x="32.9" y="1834.8" width="580.1" height="101.2" fill="#fff"/>
<rect x="37.9" y="1839.6" width="161.5" height="91.6" fill="#a93b6c"/>
<rect x="204.3" y="1839.6" width="327.2" height="91.6" fill="#359bb3"/>
<rect x="536.4" y="1839.6" width="71.7" height="91.6" fill="#fd9d5e"/>
<text x="51.8" y="1883.1" font-family='"DejaVu Sans","Liberation Sans",sans-serif' font-size="32.6" font-weight="bold" fill="#fff" textLength="66.7" lengthAdjust="spacingAndGlyphs">135</text>
<text x="54.8" y="1912.9" font-family='"Liberation Sans",sans-serif' font-size="24.4" font-weight="normal" fill="#fff" textLength="60.6" lengthAdjust="spacingAndGlyphs">2018</text>
<text x="122.2" y="1912.9" font-family='"DejaVu Sans","Liberation Sans",sans-serif' font-size="24" font-weight="bold" fill="#fff" textLength="49.1" lengthAdjust="spacingAndGlyphs">130</text>
<text x="399.4" y="1885.4" font-family='"DejaVu Sans","Liberation Sans",sans-serif' font-size="32.6" font-weight="bold" fill="#231f2a" textLength="100.6" lengthAdjust="spacingAndGlyphs">2.643</text>
<text x="421.8" y="1918.9" font-family='"DejaVu Sans","Liberation Sans",sans-serif' font-size="24" font-weight="bold" fill="#231f2a" textLength="76.7" lengthAdjust="spacingAndGlyphs">2.724</text>
<text x="354.9" y="1918.9" font-family='"Liberation Sans",sans-serif' font-size="24.4" font-weight="normal" fill="#231f2a" textLength="60.6" lengthAdjust="spacingAndGlyphs">2018</text>
<text x="622.3" y="1885.8" font-family='"DejaVu Sans","Liberation Sans",sans-serif' font-size="32.6" font-weight="bold" fill="#231f2a" textLength="76.6" lengthAdjust="spacingAndGlyphs">6:00</text>
<text x="626.2" y="1919.2" font-family='"Liberation Sans",sans-serif' font-size="24.4" font-weight="normal" fill="#231f2a" textLength="60.6" lengthAdjust="spacingAndGlyphs">2018</text>
<text x="693.6" y="1919.2" font-family='"DejaVu Sans","Liberation Sans",sans-serif' font-size="24" font-weight="bold" fill="#231f2a" textLength="58.6" lengthAdjust="spacingAndGlyphs">6:50</text>
<text x="1350.6" y="1880.9" font-family='"Liberation Sans",sans-serif' font-size="34.0" font-weight="bold" fill="#231f2a" textLength="182.4" lengthAdjust="spacingAndGlyphs" stroke="#231f2a" stroke-width="0.6">Medinaceli</text>
<rect x="35.6" y="1944.5" width="1532.0" height="96.8" fill="#fff" stroke="#7c7c7c" stroke-width="1.5"/>
<rect x="647.9" y="1944.5" width="1.5" height="96.8" fill="#7c7c7c"/>
<rect x="954.0" y="1944.5" width="1.5" height="96.8" fill="#7c7c7c"/>
<rect x="1260.2" y="1944.5" width="1.5" height="96.8" fill="#7c7c7c"/>
<rect x="32.9" y="1942.4" width="861.1" height="101.2" fill="#fff"/>
<rect x="37.9" y="1947.2" width="327.6" height="91.6" fill="#a93b6c"/>
<rect x="370.4" y="1947.2" width="403.9" height="91.6" fill="#359bb3"/>
<rect x="779.1" y="1947.2" width="110.1" height="91.6" fill="#fd9d5e"/>
<text x="52.8" y="1990.7" font-family='"DejaVu Sans","Liberation Sans",sans-serif' font-size="32.6" font-weight="bold" fill="#fff" textLength="67.9" lengthAdjust="spacingAndGlyphs">260</text>
<text x="54.0" y="2020.5" font-family='"Liberation Sans",sans-serif' font-size="24.4" font-weight="normal" fill="#fff" textLength="60.6" lengthAdjust="spacingAndGlyphs">2018</text>
<text x="122.9" y="2020.5" font-family='"DejaVu Sans","Liberation Sans",sans-serif' font-size="24" font-weight="bold" fill="#fff" textLength="50.1" lengthAdjust="spacingAndGlyphs">280</text>
<text x="653.6" y="1989.0" font-family='"DejaVu Sans","Liberation Sans",sans-serif' font-size="32.6" font-weight="bold" fill="#231f2a" textLength="98.2" lengthAdjust="spacingAndGlyphs">3.286</text>
<text x="674.9" y="2022.5" font-family='"DejaVu Sans","Liberation Sans",sans-serif' font-size="24" font-weight="bold" fill="#231f2a" textLength="77.4" lengthAdjust="spacingAndGlyphs">3.242</text>
<text x="607.7" y="2022.5" font-family='"Liberation Sans",sans-serif' font-size="24.4" font-weight="normal" fill="#231f2a" textLength="60.6" lengthAdjust="spacingAndGlyphs">2018</text>
<text x="902.9" y="1993.4" font-family='"DejaVu Sans","Liberation Sans",sans-serif' font-size="32.6" font-weight="bold" fill="#231f2a" textLength="73.3" lengthAdjust="spacingAndGlyphs">9:15</text>
<text x="905.0" y="2026.8" font-family='"Liberation Sans",sans-serif' font-size="24.4" font-weight="normal" fill="#231f2a" textLength="60.6" lengthAdjust="spacingAndGlyphs">2018</text>
<text x="972.7" y="2026.8" font-family='"DejaVu Sans","Liberation Sans",sans-serif' font-size="24" font-weight="bold" fill="#231f2a" textLength="58.8" lengthAdjust="spacingAndGlyphs">9:00</text>
<text x="1372.1" y="1988.5" font-family='"Liberation Sans",sans-serif' font-size="34.0" font-weight="bold" fill="#231f2a" textLength="159.8" lengthAdjust="spacingAndGlyphs" stroke="#231f2a" stroke-width="0.6">Nazareno</text>
<rect x="35.6" y="2053.8" width="1532.0" height="96.8" fill="#fff" stroke="#7c7c7c" stroke-width="1.5"/>
<rect x="647.9" y="2053.8" width="1.5" height="96.8" fill="#7c7c7c"/>
<rect x="954.0" y="2053.8" width="1.5" height="96.8" fill="#7c7c7c"/>
<rect x="1260.2" y="2053.8" width="1.5" height="96.8" fill="#7c7c7c"/>
<rect x="32.9" y="2051.7" width="797.2" height="101.2" fill="#fff"/>
<rect x="37.9" y="2056.5" width="442.5" height="91.6" fill="#a93b6c"/>
<rect x="485.3" y="2056.5" width="276.1" height="91.6" fill="#359bb3"/>
<rect x="766.4" y="2056.5" width="59.0" height="91.6" fill="#fd9d5e"/>
<text x="53.2" y="2100.0" font-family='"DejaVu Sans","Liberation Sans",sans-serif' font-size="32.6" font-weight="bold" fill="#fff" textLength="67.5" lengthAdjust="spacingAndGlyphs">350</text>
<text x="55.9" y="2129.8" font-family='"Liberation Sans",sans-serif' font-size="24.4" font-weight="normal" fill="#fff" textLength="60.6" lengthAdjust="spacingAndGlyphs">2018</text>
<text x="123.2" y="2129.8" font-family='"DejaVu Sans","Liberation Sans",sans-serif' font-size="24" font-weight="bold" fill="#fff" textLength="48.0" lengthAdjust="spacingAndGlyphs">315</text>
<text x="638.1" y="2102.3" font-family='"DejaVu Sans","Liberation Sans",sans-serif' font-size="32.6" font-weight="bold" fill="#231f2a" textLength="99.1" lengthAdjust="spacingAndGlyphs">2.220</text>
<text x="660.4" y="2135.8" font-family='"DejaVu Sans","Liberation Sans",sans-serif' font-size="24" font-weight="bold" fill="#231f2a" textLength="76.4" lengthAdjust="spacingAndGlyphs">2.220</text>
<text x="593.5" y="2135.8" font-family='"Liberation Sans",sans-serif' font-size="24.4" font-weight="normal" fill="#231f2a" textLength="60.6" lengthAdjust="spacingAndGlyphs">2018</text>
<text x="831.6" y="2102.7" font-family='"DejaVu Sans","Liberation Sans",sans-serif' font-size="32.6" font-weight="bold" fill="#231f2a" textLength="76.4" lengthAdjust="spacingAndGlyphs">5:30</text>
<text x="835.6" y="2136.1" font-family='"Liberation Sans",sans-serif' font-size="24.4" font-weight="normal" fill="#231f2a" textLength="60.6" lengthAdjust="spacingAndGlyphs">2018</text>
<text x="902.7" y="2136.1" font-family='"DejaVu Sans","Liberation Sans",sans-serif' font-size="24" font-weight="bold" fill="#231f2a" textLength="59.0" lengthAdjust="spacingAndGlyphs">5:30</text>
<text x="1372.1" y="2097.8" font-family='"Liberation Sans",sans-serif' font-size="34.0" font-weight="bold" fill="#231f2a" textLength="159.8" lengthAdjust="spacingAndGlyphs" stroke="#231f2a" stroke-width="0.6">Nazareno</text>
<text x="1438.9" y="2132.8" font-family='"Liberation Sans",sans-serif' font-size="34.0" font-weight="bold" fill="#231f2a" textLength="92.1" lengthAdjust="spacingAndGlyphs" stroke="#231f2a" stroke-width="0.6">Amor</text>
<rect x="35.6" y="2160.8" width="1532.0" height="96.8" fill="#fff" stroke="#7c7c7c" stroke-width="1.5"/>
<rect x="647.9" y="2160.8" width="1.5" height="96.8" fill="#7c7c7c"/>
<rect x="954.0" y="2160.8" width="1.5" height="96.8" fill="#7c7c7c"/>
<rect x="1260.2" y="2160.8" width="1.5" height="96.8" fill="#7c7c7c"/>
<rect x="32.9" y="2158.7" width="878.3" height="101.2" fill="#fff"/>
<rect x="37.9" y="2163.5" width="327.6" height="91.6" fill="#a93b6c"/>
<rect x="370.4" y="2163.5" width="429.4" height="91.6" fill="#359bb3"/>
<rect x="804.7" y="2163.5" width="101.7" height="91.6" fill="#fd9d5e"/>
<text x="52.8" y="2207.0" font-family='"DejaVu Sans","Liberation Sans",sans-serif' font-size="32.6" font-weight="bold" fill="#fff" textLength="67.9" lengthAdjust="spacingAndGlyphs">260</text>
<text x="54.0" y="2236.8" font-family='"Liberation Sans",sans-serif' font-size="24.4" font-weight="normal" fill="#fff" textLength="60.6" lengthAdjust="spacingAndGlyphs">2018</text>
<text x="123.2" y="2236.8" font-family='"DejaVu Sans","Liberation Sans",sans-serif' font-size="24" font-weight="bold" fill="#fff" textLength="50.2" lengthAdjust="spacingAndGlyphs">300</text>
<text x="679.0" y="2209.3" font-family='"DejaVu Sans","Liberation Sans",sans-serif' font-size="32.6" font-weight="bold" fill="#231f2a" textLength="98.4" lengthAdjust="spacingAndGlyphs">3.441</text>
<text x="702.6" y="2242.8" font-family='"DejaVu Sans","Liberation Sans",sans-serif' font-size="24" font-weight="bold" fill="#231f2a" textLength="74.3" lengthAdjust="spacingAndGlyphs">3.751</text>
<text x="635.4" y="2242.8" font-family='"Liberation Sans",sans-serif' font-size="24.4" font-weight="normal" fill="#231f2a" textLength="60.6" lengthAdjust="spacingAndGlyphs">2018</text>
<text x="914.9" y="2209.7" font-family='"DejaVu Sans","Liberation Sans",sans-serif' font-size="32.6" font-weight="bold" fill="#231f2a" textLength="77.0" lengthAdjust="spacingAndGlyphs">8:45</text>
<text x="918.0" y="2243.1" font-family='"Liberation Sans",sans-serif' font-size="24.4" font-weight="normal" fill="#231f2a" textLength="60.6" lengthAdjust="spacingAndGlyphs">2018</text>
<text x="985.5" y="2243.1" font-family='"DejaVu Sans","Liberation Sans",sans-serif' font-size="24" font-weight="bold" fill="#231f2a" textLength="59.4" lengthAdjust="spacingAndGlyphs">8:45</text>
<text x="1375.4" y="2205.8" font-family='"Liberation Sans",sans-serif' font-size="34.0" font-weight="bold" fill="#231f2a" textLength="154.9" lengthAdjust="spacingAndGlyphs" stroke="#231f2a" stroke-width="0.6">La Palma</text>
<rect x="35.6" y="2267.8" width="1532.0" height="96.8" fill="#fff" stroke="#7c7c7c" stroke-width="1.5"/>
<rect x="647.9" y="2267.8" width="1.5" height="96.8" fill="#7c7c7c"/>
<rect x="954.0" y="2267.8" width="1.5" height="96.8" fill="#7c7c7c"/>
<rect x="1260.2" y="2267.8" width="1.5" height="96.8" fill="#7c7c7c"/>
<rect x="32.9" y="2265.7" width="583.9" height="101.2" fill="#fff"/>
<rect x="37.9" y="2270.5" width="187.0" height="91.6" fill="#a93b6c"/>
<rect x="229.8" y="2270.5" width="301.7" height="91.6" fill="#359bb3"/>
<rect x="536.4" y="2270.5" width="75.6" height="91.6" fill="#fd9d5e"/>
<text x="51.8" y="2314.0" font-family='"DejaVu Sans","Liberation Sans",sans-serif' font-size="32.6" font-weight="bold" fill="#fff" textLength="66.7" lengthAdjust="spacingAndGlyphs">155</text>
<text x="55.9" y="2343.8" font-family='"Liberation Sans",sans-serif' font-size="24.4" font-weight="normal" fill="#fff" textLength="60.6" lengthAdjust="spacingAndGlyphs">2018</text>
<text x="122.1" y="2343.8" font-family='"DejaVu Sans","Liberation Sans",sans-serif' font-size="24" font-weight="bold" fill="#fff" textLength="49.6" lengthAdjust="spacingAndGlyphs">152</text>
<text x="413.5" y="2316.3" font-family='"DejaVu Sans","Liberation Sans",sans-serif' font-size="32.6" font-weight="bold" fill="#231f2a" textLength="99.7" lengthAdjust="spacingAndGlyphs">2.496</text>
<text x="435.9" y="2349.8" font-family='"DejaVu Sans","Liberation Sans",sans-serif' font-size="24" font-weight="bold" fill="#231f2a" textLength="76.9" lengthAdjust="spacingAndGlyphs">2.496</text>
<text x="369.0" y="2349.8" font-family='"Liberation Sans",sans-serif' font-size="24.4" font-weight="normal" fill="#231f2a" textLength="60.6" lengthAdjust="spacingAndGlyphs">2018</text>
<text x="623.1" y="2317.0" font-family='"DejaVu Sans","Liberation Sans",sans-serif' font-size="32.6" font-weight="bold" fill="#231f2a" textLength="76.0" lengthAdjust="spacingAndGlyphs">6:30</text>
<text x="627.3" y="2350.4" font-family='"Liberation Sans",sans-serif' font-size="24.4" font-weight="normal" fill="#231f2a" textLength="60.6" lengthAdjust="spacingAndGlyphs">2018</text>
<text x="694.7" y="2350.4" font-family='"DejaVu Sans","Liberation Sans",sans-serif' font-size="24" font-weight="bold" fill="#231f2a" textLength="58.6" lengthAdjust="spacingAndGlyphs">6:30</text>
<text x="1428.2" y="2311.8" font-family='"Liberation Sans",sans-serif' font-size="34.0" font-weight="bold" fill="#231f2a" textLength="103.7" lengthAdjust="spacingAndGlyphs" stroke="#231f2a" stroke-width="0.6">Penas</text>
<rect x="35.6" y="2388.0" width="1532.0" height="96.8" fill="#fff" stroke="#7c7c7c" stroke-width="1.5"/>
<rect x="647.9" y="2388.0" width="1.5" height="96.8" fill="#7c7c7c"/>
<rect x="954.0" y="2388.0" width="1.5" height="96.8" fill="#7c7c7c"/>
<rect x="1260.2" y="2388.0" width="1.5" height="96.8" fill="#7c7c7c"/>
<rect x="32.9" y="2385.9" width="758.9" height="101.2" fill="#fff"/>
<rect x="37.9" y="2390.7" width="302.0" height="91.6" fill="#a93b6c"/>
<rect x="344.8" y="2390.7" width="352.8" height="91.6" fill="#359bb3"/>
<rect x="702.5" y="2390.7" width="84.5" height="91.6" fill="#fd9d5e"/>
<text x="52.8" y="2434.2" font-family='"DejaVu Sans","Liberation Sans",sans-serif' font-size="32.6" font-weight="bold" fill="#fff" textLength="69.0" lengthAdjust="spacingAndGlyphs">240</text>
<text x="54.8" y="2464.0" font-family='"Liberation Sans",sans-serif' font-size="24.4" font-weight="normal" fill="#fff" textLength="60.6" lengthAdjust="spacingAndGlyphs">2018</text>
<text x="122.1" y="2464.0" font-family='"DejaVu Sans","Liberation Sans",sans-serif' font-size="24" font-weight="bold" fill="#fff" textLength="49.3" lengthAdjust="spacingAndGlyphs">194</text>
<text x="582.4" y="2436.5" font-family='"DejaVu Sans","Liberation Sans",sans-serif' font-size="32.6" font-weight="bold" fill="#231f2a" textLength="99.9" lengthAdjust="spacingAndGlyphs">2.805</text>
<text x="605.5" y="2470.0" font-family='"DejaVu Sans","Liberation Sans",sans-serif' font-size="24" font-weight="bold" fill="#231f2a" textLength="76.2" lengthAdjust="spacingAndGlyphs">3.265</text>
<text x="538.3" y="2470.0" font-family='"Liberation Sans",sans-serif' font-size="24.4" font-weight="normal" fill="#231f2a" textLength="60.6" lengthAdjust="spacingAndGlyphs">2018</text>
<text x="792.5" y="2436.9" font-family='"DejaVu Sans","Liberation Sans",sans-serif' font-size="32.6" font-weight="bold" fill="#231f2a" textLength="76.2" lengthAdjust="spacingAndGlyphs">7:55</text>
<text x="796.1" y="2470.3" font-family='"Liberation Sans",sans-serif' font-size="24.4" font-weight="normal" fill="#231f2a" textLength="60.6" lengthAdjust="spacingAndGlyphs">2018</text>
<text x="863.6" y="2470.3" font-family='"DejaVu Sans","Liberation Sans",sans-serif' font-size="24" font-weight="bold" fill="#231f2a" textLength="58.5" lengthAdjust="spacingAndGlyphs">8:50</text>
<text x="1411.3" y="2432.0" font-family='"Liberation Sans",sans-serif' font-size="34.0" font-weight="bold" fill="#231f2a" textLength="121.3" lengthAdjust="spacingAndGlyphs" stroke="#231f2a" stroke-width="0.6">Perdón</text>
<rect x="35.6" y="2495.6" width="1532.0" height="96.8" fill="#fff" stroke="#7c7c7c" stroke-width="1.5"/>
<rect x="647.9" y="2495.6" width="1.5" height="96.8" fill="#7c7c7c"/>
<rect x="954.0" y="2495.6" width="1.5" height="96.8" fill="#7c7c7c"/>
<rect x="1260.2" y="2495.6" width="1.5" height="96.8" fill="#7c7c7c"/>
<rect x="32.9" y="2493.5" width="541.8" height="101.2" fill="#fff"/>
<rect x="37.9" y="2498.3" width="148.7" height="91.6" fill="#a93b6c"/>
<rect x="191.5" y="2498.3" width="301.7" height="91.6" fill="#359bb3"/>
<rect x="498.1" y="2498.3" width="71.7" height="91.6" fill="#fd9d5e"/>
<text x="51.8" y="2541.8" font-family='"DejaVu Sans","Liberation Sans",sans-serif' font-size="32.6" font-weight="bold" fill="#fff" textLength="66.6" lengthAdjust="spacingAndGlyphs">120</text>
<text x="54.8" y="2571.6" font-family='"Liberation Sans",sans-serif' font-size="24.4" font-weight="normal" fill="#fff" textLength="60.6" lengthAdjust="spacingAndGlyphs">2018</text>
<text x="122.2" y="2571.6" font-family='"DejaVu Sans","Liberation Sans",sans-serif' font-size="24" font-weight="bold" fill="#fff" textLength="49.1" lengthAdjust="spacingAndGlyphs">190</text>
<text x="377.3" y="2544.1" font-family='"DejaVu Sans","Liberation Sans",sans-serif' font-size="32.6" font-weight="bold" fill="#231f2a" textLength="99.7" lengthAdjust="spacingAndGlyphs">2.466</text>
<text x="399.7" y="2577.6" font-family='"DejaVu Sans","Liberation Sans",sans-serif' font-size="24" font-weight="bold" fill="#231f2a" textLength="76.9" lengthAdjust="spacingAndGlyphs">2.466</text>
<text x="332.8" y="2577.6" font-family='"Liberation Sans",sans-serif' font-size="24.4" font-weight="normal" fill="#231f2a" textLength="60.6" lengthAdjust="spacingAndGlyphs">2018</text>
<text x="585.1" y="2544.5" font-family='"DejaVu Sans","Liberation Sans",sans-serif' font-size="32.6" font-weight="bold" fill="#231f2a" textLength="76.6" lengthAdjust="spacingAndGlyphs">6:00</text>
<text x="588.0" y="2577.9" font-family='"Liberation Sans",sans-serif' font-size="24.4" font-weight="normal" fill="#231f2a" textLength="60.6" lengthAdjust="spacingAndGlyphs">2018</text>
<text x="655.4" y="2577.9" font-family='"DejaVu Sans","Liberation Sans",sans-serif' font-size="24" font-weight="bold" fill="#231f2a" textLength="59.1" lengthAdjust="spacingAndGlyphs">6:00</text>
<text x="1416.5" y="2539.6" font-family='"Liberation Sans",sans-serif' font-size="34.0" font-weight="bold" fill="#231f2a" textLength="116.3" lengthAdjust="spacingAndGlyphs" stroke="#231f2a" stroke-width="0.6">Piedad</text>
<rect x="35.6" y="2602.9" width="1532.0" height="96.8" fill="#fff" stroke="#7c7c7c" stroke-width="1.5"/>
<rect x="647.9" y="2602.9" width="1.5" height="96.8" fill="#7c7c7c"/>
<rect x="954.0" y="2602.9" width="1.5" height="96.8" fill="#7c7c7c"/>
<rect x="1260.2" y="2602.9" width="1.5" height="96.8" fill="#7c7c7c"/>
<rect x="32.9" y="2600.8" width="758.9" height="101.2" fill="#fff"/>
<rect x="37.9" y="2605.6" width="289.2" height="91.6" fill="#a93b6c"/>
<rect x="332.0" y="2605.6" width="365.6" height="91.6" fill="#359bb3"/>
<rect x="702.5" y="2605.6" width="84.5" height="91.6" fill="#fd9d5e"/>
<text x="52.9" y="2649.1" font-family='"DejaVu Sans","Liberation Sans",sans-serif' font-size="32.6" font-weight="bold" fill="#fff" textLength="65.5" lengthAdjust="spacingAndGlyphs">231</text>
<text x="55.9" y="2678.9" font-family='"Liberation Sans",sans-serif' font-size="24.4" font-weight="normal" fill="#fff" textLength="60.6" lengthAdjust="spacingAndGlyphs">2018</text>
<text x="122.2" y="2678.9" font-family='"DejaVu Sans","Liberation Sans",sans-serif' font-size="24" font-weight="bold" fill="#fff" textLength="49.0" lengthAdjust="spacingAndGlyphs">199</text>
<text x="581.6" y="2651.4" font-family='"DejaVu Sans","Liberation Sans",sans-serif' font-size="32.6" font-weight="bold" fill="#231f2a" textLength="99.1" lengthAdjust="spacingAndGlyphs">2.980</text>
<text x="606.1" y="2684.9" font-family='"DejaVu Sans","Liberation Sans",sans-serif' font-size="24" font-weight="bold" fill="#231f2a" textLength="74.6" lengthAdjust="spacingAndGlyphs">3.019</text>
<text x="538.8" y="2684.9" font-family='"Liberation Sans",sans-serif' font-size="24.4" font-weight="normal" fill="#231f2a" textLength="60.6" lengthAdjust="spacingAndGlyphs">2018</text>
<text x="801.9" y="2651.8" font-family='"DejaVu Sans","Liberation Sans",sans-serif' font-size="32.6" font-weight="bold" fill="#231f2a" textLength="76.2" lengthAdjust="spacingAndGlyphs">7:25</text>
<text x="805.4" y="2685.2" font-family='"Liberation Sans",sans-serif' font-size="24.4" font-weight="normal" fill="#231f2a" textLength="60.6" lengthAdjust="spacingAndGlyphs">2018</text>
<text x="872.7" y="2685.2" font-family='"DejaVu Sans","Liberation Sans",sans-serif' font-size="24" font-weight="bold" fill="#231f2a" textLength="59.5" lengthAdjust="spacingAndGlyphs">7:40</text>
<text x="1308.2" y="2646.9" font-family='"Liberation Sans",sans-serif' font-size="34.0" font-weight="bold" fill="#231f2a" textLength="223.6" lengthAdjust="spacingAndGlyphs" stroke="#231f2a" stroke-width="0.6">Prendimiento</text>
<rect x="35.6" y="2713.9" width="1532.0" height="96.8" fill="#fff" stroke="#7c7c7c" stroke-width="1.5"/>
<rect x="647.9" y="2713.9" width="1.5" height="96.8" fill="#7c7c7c"/>
<rect x="954.0" y="2713.9" width="1.5" height="96.8" fill="#7c7c7c"/>
<rect x="1260.2" y="2713.9" width="1.5" height="96.8" fill="#7c7c7c"/>
<rect x="32.9" y="2711.8" width="669.5" height="101.2" fill="#fff"/>
<rect x="37.9" y="2716.6" width="225.3" height="91.6" fill="#a93b6c"/>
<rect x="268.2" y="2716.6" width="352.8" height="91.6" fill="#359bb3"/>
<rect x="625.8" y="2716.6" width="71.8" height="91.6" fill="#fd9d5e"/>
<text x="51.8" y="2760.1" font-family='"DejaVu Sans","Liberation Sans",sans-serif' font-size="32.6" font-weight="bold" fill="#fff" textLength="66.6" lengthAdjust="spacingAndGlyphs">180</text>
<text x="55.9" y="2789.9" font-family='"Liberation Sans",sans-serif' font-size="24.4" font-weight="normal" fill="#fff" textLength="60.6" lengthAdjust="spacingAndGlyphs">2018</text>
<text x="122.2" y="2789.9" font-family='"DejaVu Sans","Liberation Sans",sans-serif' font-size="24" font-weight="bold" fill="#fff" textLength="49.2" lengthAdjust="spacingAndGlyphs">135</text>
<text x="504.7" y="2762.4" font-family='"DejaVu Sans","Liberation Sans",sans-serif' font-size="32.6" font-weight="bold" fill="#231f2a" textLength="99.2" lengthAdjust="spacingAndGlyphs">2.835</text>
<text x="526.9" y="2795.9" font-family='"DejaVu Sans","Liberation Sans",sans-serif' font-size="24" font-weight="bold" fill="#231f2a" textLength="76.5" lengthAdjust="spacingAndGlyphs">2.835</text>
<text x="460.0" y="2795.9" font-family='"Liberation Sans",sans-serif' font-size="24.4" font-weight="normal" fill="#231f2a" textLength="60.6" lengthAdjust="spacingAndGlyphs">2018</text>
<text x="712.2" y="2762.8" font-family='"DejaVu Sans","Liberation Sans",sans-serif' font-size="32.6" font-weight="bold" fill="#231f2a" textLength="73.6" lengthAdjust="spacingAndGlyphs">6:15</text>
<text x="715.6" y="2796.2" font-family='"Liberation Sans",sans-serif' font-size="24.4" font-weight="normal" fill="#231f2a" textLength="60.6" lengthAdjust="spacingAndGlyphs">2018</text>
<text x="783.0" y="2796.2" font-family='"DejaVu Sans","Liberation Sans",sans-serif' font-size="24" font-weight="bold" fill="#231f2a" textLength="58.6" lengthAdjust="spacingAndGlyphs">6:20</text>
<text x="1397.7" y="2757.9" font-family='"Liberation Sans",sans-serif' font-size="34.0" font-weight="bold" fill="#231f2a" textLength="135.1" lengthAdjust="spacingAndGlyphs" stroke="#231f2a" stroke-width="0.6">Sanidad</text>
<rect x="35.6" y="2819.7" width="1532.0" height="96.8" fill="#fff" stroke="#7c7c7c" stroke-width="1.5"/>
<rect x="647.9" y="2819.7" width="1.5" height="96.8" fill="#7c7c7c"/>
<rect x="954.0" y="2819.7" width="1.5" height="96.8" fill="#7c7c7c"/>
<rect x="1260.2" y="2819.7" width="1.5" height="96.8" fill="#7c7c7c"/>
<rect x="32.9" y="2817.6" width="592.8" height="101.2" fill="#fff"/>
<rect x="37.9" y="2822.4" width="148.7" height="91.6" fill="#a93b6c"/>
<rect x="191.5" y="2822.4" width="352.8" height="91.6" fill="#359bb3"/>
<rect x="549.2" y="2822.4" width="71.7" height="91.6" fill="#fd9d5e"/>
<text x="51.8" y="2865.9" font-family='"DejaVu Sans","Liberation Sans",sans-serif' font-size="32.6" font-weight="bold" fill="#fff" textLength="66.1" lengthAdjust="spacingAndGlyphs">126</text>
<text x="54.8" y="2895.7" font-family='"Liberation Sans",sans-serif' font-size="24.4" font-weight="normal" fill="#fff" textLength="60.6" lengthAdjust="spacingAndGlyphs">2018</text>
<text x="122.1" y="2895.7" font-family='"DejaVu Sans","Liberation Sans",sans-serif' font-size="24" font-weight="bold" fill="#fff" textLength="49.3" lengthAdjust="spacingAndGlyphs">164</text>
<text x="426.8" y="2868.2" font-family='"DejaVu Sans","Liberation Sans",sans-serif' font-size="32.6" font-weight="bold" fill="#231f2a" textLength="99.4" lengthAdjust="spacingAndGlyphs">2.824</text>
<text x="450.0" y="2901.7" font-family='"DejaVu Sans","Liberation Sans",sans-serif' font-size="24" font-weight="bold" fill="#231f2a" textLength="76.9" lengthAdjust="spacingAndGlyphs">2.982</text>
<text x="383.1" y="2901.7" font-family='"Liberation Sans",sans-serif' font-size="24.4" font-weight="normal" fill="#231f2a" textLength="60.6" lengthAdjust="spacingAndGlyphs">2018</text>
<text x="627.7" y="2868.6" font-family='"DejaVu Sans","Liberation Sans",sans-serif' font-size="32.6" font-weight="bold" fill="#231f2a" textLength="76.6" lengthAdjust="spacingAndGlyphs">6:00</text>
<text x="631.3" y="2902.0" font-family='"Liberation Sans",sans-serif' font-size="24.4" font-weight="normal" fill="#231f2a" textLength="60.6" lengthAdjust="spacingAndGlyphs">2018</text>
<text x="698.7" y="2902.0" font-family='"DejaVu Sans","Liberation Sans",sans-serif' font-size="24" font-weight="bold" fill="#231f2a" textLength="58.7" lengthAdjust="spacingAndGlyphs">6:25</text>
<text x="1293.3" y="2863.7" font-family='"Liberation Sans",sans-serif' font-size="34.0" font-weight="bold" fill="#231f2a" textLength="238.5" lengthAdjust="spacingAndGlyphs" stroke="#231f2a" stroke-width="0.6">Santo Entierro</text>
<rect x="35.6" y="2928.3" width="1532.0" height="96.8" fill="#fff" stroke="#7c7c7c" stroke-width="1.5"/>
<rect x="647.9" y="2928.3" width="1.5" height="96.8" fill="#7c7c7c"/>
<rect x="954.0" y="2928.3" width="1.5" height="96.8" fill="#7c7c7c"/>
<rect x="1260.2" y="2928.3" width="1.5" height="96.8" fill="#7c7c7c"/>
<rect x="32.9" y="2926.2" width="893.3" height="101.2" fill="#fff"/>
<rect x="37.9" y="2931.0" width="455.3" height="91.6" fill="#a93b6c"/>
<rect x="498.1" y="2931.0" width="327.2" height="91.6" fill="#359bb3"/>
<rect x="830.2" y="2931.0" width="91.1" height="91.6" fill="#fd9d5e"/>
<text x="53.2" y="2974.5" font-family='"DejaVu Sans","Liberation Sans",sans-serif' font-size="32.6" font-weight="bold" fill="#fff" textLength="68.0" lengthAdjust="spacingAndGlyphs">363</text>
<text x="55.9" y="3004.3" font-family='"Liberation Sans",sans-serif' font-size="24.4" font-weight="normal" fill="#fff" textLength="60.6" lengthAdjust="spacingAndGlyphs">2018</text>
<text x="123.2" y="3004.3" font-family='"DejaVu Sans","Liberation Sans",sans-serif' font-size="24" font-weight="bold" fill="#fff" textLength="48.0" lengthAdjust="spacingAndGlyphs">331</text>
<text x="710.0" y="2973.8" font-family='"DejaVu Sans","Liberation Sans",sans-serif' font-size="32.6" font-weight="bold" fill="#231f2a" textLength="98.7" lengthAdjust="spacingAndGlyphs">2.626</text>
<text x="731.7" y="3007.3" font-family='"DejaVu Sans","Liberation Sans",sans-serif' font-size="24" font-weight="bold" fill="#231f2a" textLength="77.2" lengthAdjust="spacingAndGlyphs">2.707</text>
<text x="664.8" y="3007.3" font-family='"Liberation Sans",sans-serif' font-size="24.4" font-weight="normal" fill="#231f2a" textLength="60.6" lengthAdjust="spacingAndGlyphs">2018</text>
<text x="930.4" y="2978.2" font-family='"DejaVu Sans","Liberation Sans",sans-serif' font-size="32.6" font-weight="bold" fill="#231f2a" textLength="76.1" lengthAdjust="spacingAndGlyphs">7:50</text>
<text x="933.7" y="3011.6" font-family='"Liberation Sans",sans-serif' font-size="24.4" font-weight="normal" fill="#231f2a" textLength="60.6" lengthAdjust="spacingAndGlyphs">2018</text>
<text x="1001.2" y="3011.6" font-family='"DejaVu Sans","Liberation Sans",sans-serif' font-size="24" font-weight="bold" fill="#231f2a" textLength="58.5" lengthAdjust="spacingAndGlyphs">8:20</text>
<text x="1367.0" y="2972.3" font-family='"Liberation Sans",sans-serif' font-size="34.0" font-weight="bold" fill="#231f2a" textLength="163.3" lengthAdjust="spacingAndGlyphs" stroke="#231f2a" stroke-width="0.6">Sentencia</text>
<rect x="35.6" y="3036.8" width="1532.0" height="96.8" fill="#fff" stroke="#7c7c7c" stroke-width="1.5"/>
<rect x="647.9" y="3036.8" width="1.5" height="96.8" fill="#7c7c7c"/>
<rect x="954.0" y="3036.8" width="1.5" height="96.8" fill="#7c7c7c"/>
<rect x="1260.2" y="3036.8" width="1.5" height="96.8" fill="#7c7c7c"/>
<rect x="32.9" y="3034.7" width="401.2" height="101.2" fill="#fff"/>
<rect x="37.9" y="3039.5" width="135.9" height="91.6" fill="#a93b6c"/>
<rect x="178.7" y="3039.5" width="199.5" height="91.6" fill="#359bb3"/>
<rect x="383.1" y="3039.5" width="46.2" height="91.6" fill="#fd9d5e"/>
<text x="51.9" y="3083.0" font-family='"DejaVu Sans","Liberation Sans",sans-serif' font-size="32.6" font-weight="bold" fill="#fff" textLength="64.1" lengthAdjust="spacingAndGlyphs">110</text>
<text x="55.9" y="3112.8" font-family='"Liberation Sans",sans-serif' font-size="24.4" font-weight="normal" fill="#fff" textLength="60.6" lengthAdjust="spacingAndGlyphs">2018</text>
<text x="122.1" y="3112.8" font-family='"DejaVu Sans","Liberation Sans",sans-serif' font-size="24" font-weight="bold" fill="#fff" textLength="49.7" lengthAdjust="spacingAndGlyphs">105</text>
<text x="268.5" y="3081.1" font-family='"DejaVu Sans","Liberation Sans",sans-serif' font-size="32.6" font-weight="bold" fill="#231f2a" textLength="98.6" lengthAdjust="spacingAndGlyphs">1.648</text>
<text x="291.4" y="3114.6" font-family='"DejaVu Sans","Liberation Sans",sans-serif' font-size="24" font-weight="bold" fill="#231f2a" textLength="75.5" lengthAdjust="spacingAndGlyphs">1.875</text>
<text x="225.3" y="3114.6" font-family='"Liberation Sans",sans-serif' font-size="24.4" font-weight="normal" fill="#231f2a" textLength="60.6" lengthAdjust="spacingAndGlyphs">2018</text>
<text x="443.8" y="3086.0" font-family='"DejaVu Sans","Liberation Sans",sans-serif' font-size="32.6" font-weight="bold" fill="#231f2a" textLength="77.5" lengthAdjust="spacingAndGlyphs">4:40</text>
<text x="446.8" y="3119.4" font-family='"Liberation Sans",sans-serif' font-size="24.4" font-weight="normal" fill="#231f2a" textLength="60.6" lengthAdjust="spacingAndGlyphs">2018</text>
<text x="513.9" y="3119.4" font-family='"DejaVu Sans","Liberation Sans",sans-serif' font-size="24" font-weight="bold" fill="#231f2a" textLength="59.0" lengthAdjust="spacingAndGlyphs">5:30</text>
<text x="1395.6" y="3080.8" font-family='"Liberation Sans",sans-serif' font-size="34.0" font-weight="bold" fill="#231f2a" textLength="136.3" lengthAdjust="spacingAndGlyphs" stroke="#231f2a" stroke-width="0.6">Servitas</text>
<rect x="35.6" y="3144.7" width="1532.0" height="96.8" fill="#fff" stroke="#7c7c7c" stroke-width="1.5"/>
<rect x="647.9" y="3144.7" width="1.5" height="96.8" fill="#7c7c7c"/>
<rect x="954.0" y="3144.7" width="1.5" height="96.8" fill="#7c7c7c"/>
<rect x="1260.2" y="3144.7" width="1.5" height="96.8" fill="#7c7c7c"/>
<rect x="32.9" y="3142.6" width="490.6" height="101.2" fill="#fff"/>
<rect x="37.9" y="3147.4" width="84.8" height="91.6" fill="#a93b6c"/>
<rect x="127.6" y="3147.4" width="301.7" height="91.6" fill="#359bb3"/>
<rect x="434.2" y="3147.4" width="84.5" height="91.6" fill="#fd9d5e"/>
<text x="140.1" y="3190.9" font-family='"DejaVu Sans","Liberation Sans",sans-serif' font-size="32.6" font-weight="bold" fill="#fff" textLength="46.0" lengthAdjust="spacingAndGlyphs">75</text>
<text x="137.6" y="3220.7" font-family='"Liberation Sans",sans-serif' font-size="24.4" font-weight="normal" fill="#fff" textLength="60.6" lengthAdjust="spacingAndGlyphs">2018</text>
<text x="204.7" y="3220.7" font-family='"DejaVu Sans","Liberation Sans",sans-serif' font-size="24" font-weight="bold" fill="#fff" textLength="33.7" lengthAdjust="spacingAndGlyphs">85</text>
<text x="313.0" y="3185.2" font-family='"DejaVu Sans","Liberation Sans",sans-serif' font-size="32.6" font-weight="bold" fill="#231f2a" textLength="100.2" lengthAdjust="spacingAndGlyphs">2.480</text>
<text x="336.8" y="3218.7" font-family='"DejaVu Sans","Liberation Sans",sans-serif' font-size="24" font-weight="bold" fill="#231f2a" textLength="76.1" lengthAdjust="spacingAndGlyphs">2.626</text>
<text x="269.9" y="3218.7" font-family='"Liberation Sans",sans-serif' font-size="24.4" font-weight="normal" fill="#231f2a" textLength="60.6" lengthAdjust="spacingAndGlyphs">2018</text>
<text x="531.6" y="3190.6" font-family='"DejaVu Sans","Liberation Sans",sans-serif' font-size="32.6" font-weight="bold" fill="#231f2a" textLength="76.7" lengthAdjust="spacingAndGlyphs">7:00</text>
<text x="533.9" y="3224.0" font-family='"Liberation Sans",sans-serif' font-size="24.4" font-weight="normal" fill="#231f2a" textLength="60.6" lengthAdjust="spacingAndGlyphs">2018</text>
<text x="601.3" y="3224.0" font-family='"DejaVu Sans","Liberation Sans",sans-serif' font-size="24" font-weight="bold" fill="#231f2a" textLength="59.4" lengthAdjust="spacingAndGlyphs">6:40</text>
<text x="1290.6" y="3188.7" font-family='"Liberation Sans",sans-serif' font-size="34.0" font-weight="bold" fill="#231f2a" textLength="241.3" lengthAdjust="spacingAndGlyphs" stroke="#231f2a" stroke-width="0.6">Sieta Palabras</text>
<rect x="35.6" y="3253.5" width="1532.0" height="96.8" fill="#fff" stroke="#7c7c7c" stroke-width="1.5"/>
<rect x="647.9" y="3253.5" width="1.5" height="96.8" fill="#7c7c7c"/>
<rect x="954.0" y="3253.5" width="1.5" height="96.8" fill="#7c7c7c"/>
<rect x="1260.2" y="3253.5" width="1.5" height="96.8" fill="#7c7c7c"/>
<rect x="32.9" y="3251.4" width="554.5" height="101.2" fill="#fff"/>
<rect x="37.9" y="3256.2" width="225.3" height="91.6" fill="#a93b6c"/>
<rect x="268.2" y="3256.2" width="263.4" height="91.6" fill="#359bb3"/>
<rect x="536.4" y="3256.2" width="46.2" height="91.6" fill="#fd9d5e"/>
<text x="51.9" y="3298.2" font-family='"DejaVu Sans","Liberation Sans",sans-serif' font-size="32.6" font-weight="bold" fill="#fff" textLength="64.1" lengthAdjust="spacingAndGlyphs">181</text>
<text x="54.8" y="3331.2" font-family='"Liberation Sans",sans-serif' font-size="24.4" font-weight="normal" fill="#fff" textLength="60.6" lengthAdjust="spacingAndGlyphs">2018</text>
<text x="122.2" y="3331.2" font-family='"DejaVu Sans","Liberation Sans",sans-serif' font-size="24" font-weight="bold" fill="#fff" textLength="49.1" lengthAdjust="spacingAndGlyphs">190</text>
<text x="413.4" y="3298.5" font-family='"DejaVu Sans","Liberation Sans",sans-serif' font-size="32.6" font-weight="bold" fill="#231f2a" textLength="96.5" lengthAdjust="spacingAndGlyphs">2.178</text>
<text x="433.2" y="3332.0" font-family='"DejaVu Sans","Liberation Sans",sans-serif' font-size="24" font-weight="bold" fill="#231f2a" textLength="76.8" lengthAdjust="spacingAndGlyphs">2.293</text>
<text x="366.3" y="3332.0" font-family='"Liberation Sans",sans-serif' font-size="24.4" font-weight="normal" fill="#231f2a" textLength="60.6" lengthAdjust="spacingAndGlyphs">2018</text>
<text x="589.6" y="3298.9" font-family='"DejaVu Sans","Liberation Sans",sans-serif' font-size="32.6" font-weight="bold" fill="#231f2a" textLength="76.5" lengthAdjust="spacingAndGlyphs">4:55</text>
<text x="592.9" y="3332.3" font-family='"Liberation Sans",sans-serif' font-size="24.4" font-weight="normal" fill="#231f2a" textLength="60.6" lengthAdjust="spacingAndGlyphs">2018</text>
<text x="659.9" y="3332.3" font-family='"DejaVu Sans","Liberation Sans",sans-serif' font-size="24" font-weight="bold" fill="#231f2a" textLength="59.4" lengthAdjust="spacingAndGlyphs">5:00</text>
<text x="1369.7" y="3297.5" font-family='"Liberation Sans",sans-serif' font-size="34.0" font-weight="bold" fill="#231f2a" textLength="162.0" lengthAdjust="spacingAndGlyphs" stroke="#231f2a" stroke-width="0.6">Vera Cruz</text>
</svg></body></html>
